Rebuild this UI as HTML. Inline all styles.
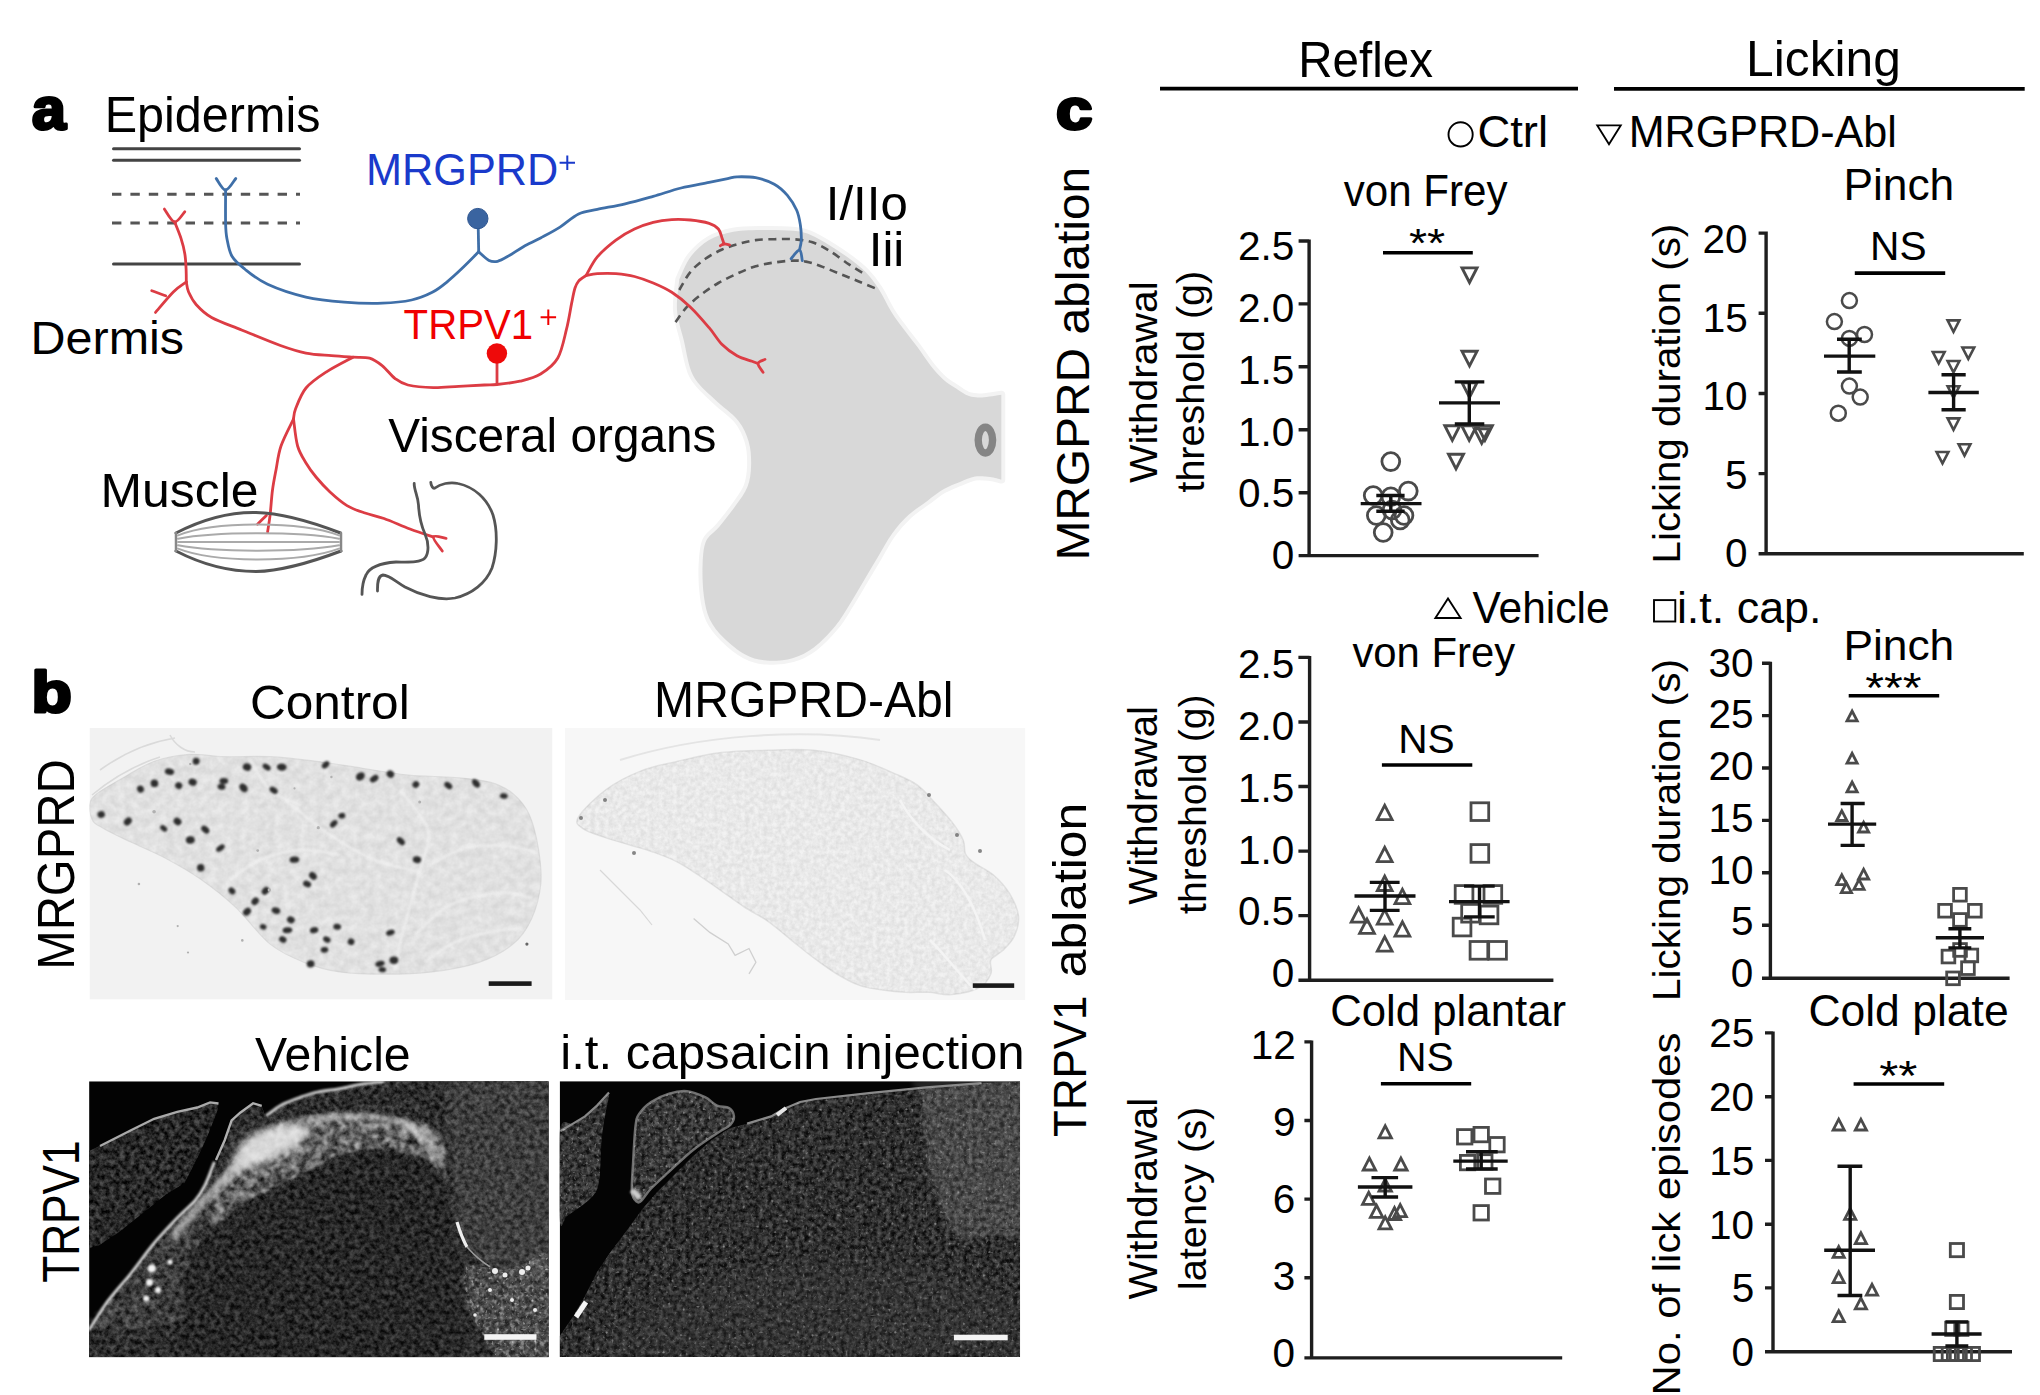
<!DOCTYPE html>
<html><head><meta charset="utf-8"><style>
html,body{margin:0;padding:0;background:#fff;}
body{width:2040px;height:1395px;overflow:hidden;}
svg{display:block;font-family:"Liberation Sans",sans-serif;}
</style></head><body>
<svg width="2040" height="1395" viewBox="0 0 2040 1395">
<rect width="2040" height="1395" fill="#fff"/>
<defs>
<filter id="texD" filterUnits="userSpaceOnUse" x="80" y="720" width="960" height="645" color-interpolation-filters="sRGB">
 <feTurbulence type="fractalNoise" baseFrequency="0.2" numOctaves="3" seed="7" result="t"/>
 <feGaussianBlur in="t" stdDeviation="0.55" result="tb"/>
 <feColorMatrix in="tb" type="matrix" values="1 0 0 0 0  1 0 0 0 0  1 0 0 0 0  0 0 0 0 1" result="g"/>
 <feComponentTransfer in="g" result="c"><feFuncR type="linear" slope="1.8" intercept="-0.4"/><feFuncG type="linear" slope="1.8" intercept="-0.4"/><feFuncB type="linear" slope="1.8" intercept="-0.4"/></feComponentTransfer>
 <feComposite in="c" in2="SourceAlpha" operator="in"/>
</filter>
<filter id="texD2" filterUnits="userSpaceOnUse" x="80" y="720" width="960" height="645" color-interpolation-filters="sRGB">
 <feTurbulence type="fractalNoise" baseFrequency="0.22" numOctaves="3" seed="17" result="t"/>
 <feGaussianBlur in="t" stdDeviation="0.55" result="tb"/>
 <feColorMatrix in="tb" type="matrix" values="1 0 0 0 0  1 0 0 0 0  1 0 0 0 0  0 0 0 0 1" result="g"/>
 <feComponentTransfer in="g" result="c"><feFuncR type="linear" slope="1.8" intercept="-0.4"/><feFuncG type="linear" slope="1.8" intercept="-0.4"/><feFuncB type="linear" slope="1.8" intercept="-0.4"/></feComponentTransfer>
 <feComposite in="c" in2="SourceAlpha" operator="in"/>
</filter>
<filter id="texL" filterUnits="userSpaceOnUse" x="80" y="720" width="960" height="645" color-interpolation-filters="sRGB">
 <feTurbulence type="fractalNoise" baseFrequency="0.12" numOctaves="3" seed="11" result="t"/>
 <feGaussianBlur in="t" stdDeviation="0.55" result="tb"/>
 <feColorMatrix in="tb" type="matrix" values="1 0 0 0 0  1 0 0 0 0  1 0 0 0 0  0 0 0 0 1" result="g"/>
 <feComponentTransfer in="g" result="c"><feFuncR type="linear" slope="1.6" intercept="-0.30000000000000004"/><feFuncG type="linear" slope="1.6" intercept="-0.30000000000000004"/><feFuncB type="linear" slope="1.6" intercept="-0.30000000000000004"/></feComponentTransfer>
 <feComposite in="c" in2="SourceAlpha" operator="in"/>
</filter>
<filter id="mot" filterUnits="userSpaceOnUse" x="80" y="720" width="960" height="645" color-interpolation-filters="sRGB">
 <feTurbulence type="fractalNoise" baseFrequency="0.13" numOctaves="2" seed="5" result="t"/>
 <feColorMatrix in="t" type="matrix" values="0 0 0 0 1  0 0 0 0 1  0 0 0 0 1  3.2 0 0 0 -1.25" result="w"/>
 <feComposite in="w" in2="SourceAlpha" operator="in"/>
</filter>
<filter id="mot2" filterUnits="userSpaceOnUse" x="80" y="720" width="960" height="645" color-interpolation-filters="sRGB">
 <feTurbulence type="fractalNoise" baseFrequency="0.2" numOctaves="2" seed="9" result="t"/>
 <feColorMatrix in="t" type="matrix" values="0 0 0 0 1  0 0 0 0 1  0 0 0 0 1  3.5 0 0 0 -1.75" result="w"/>
 <feComposite in="w" in2="SourceAlpha" operator="in"/>
</filter>
<filter id="spk" filterUnits="userSpaceOnUse" x="80" y="720" width="960" height="645" color-interpolation-filters="sRGB">
 <feTurbulence type="fractalNoise" baseFrequency="0.35" numOctaves="1" seed="21" result="t"/>
 <feColorMatrix in="t" type="matrix" values="0 0 0 0 1  0 0 0 0 1  0 0 0 0 1  5 0 0 0 -3.1" result="w"/>
 <feComposite in="w" in2="SourceAlpha" operator="in"/>
</filter>
<filter id="b06" filterUnits="userSpaceOnUse" x="80" y="720" width="960" height="645" color-interpolation-filters="sRGB"><feGaussianBlur stdDeviation="0.6"/></filter>
<filter id="b1" filterUnits="userSpaceOnUse" x="80" y="720" width="960" height="645" color-interpolation-filters="sRGB"><feGaussianBlur stdDeviation="1"/></filter>
<filter id="b2" filterUnits="userSpaceOnUse" x="80" y="720" width="960" height="645" color-interpolation-filters="sRGB"><feGaussianBlur stdDeviation="2.2"/></filter>
<filter id="b4" filterUnits="userSpaceOnUse" x="80" y="720" width="960" height="645" color-interpolation-filters="sRGB"><feGaussianBlur stdDeviation="4"/></filter>
<filter id="b8" filterUnits="userSpaceOnUse" x="80" y="720" width="960" height="645" color-interpolation-filters="sRGB"><feGaussianBlur stdDeviation="8"/></filter>
<filter id="b14" filterUnits="userSpaceOnUse" x="80" y="720" width="960" height="645" color-interpolation-filters="sRGB"><feGaussianBlur stdDeviation="14"/></filter>
<clipPath id="cpV"><rect x="89.1" y="1081.3" width="459.7" height="276"/></clipPath>
<clipPath id="cpC"><rect x="559.7" y="1081.2" width="460.4" height="275.8"/></clipPath>
<clipPath id="cpM1"><rect x="89.5" y="728" width="463" height="271.6"/></clipPath>
<clipPath id="cpM2"><rect x="565" y="727.7" width="460.4" height="272.3"/></clipPath>
</defs>
<g clip-path="url(#cpM1)">
<rect x="89.5" y="728" width="463" height="271.6" fill="#f2f2f2"/>
<path d="M92,798.4 C96.6,791.8 109.3,786 119.7,779.8 C130.1,773.6 142.8,765.5 154.4,761.3 C166,757.1 177.5,755.2 189.1,754.4 C200.7,753.6 210.3,756.3 223.8,756.7 C237.3,757.1 254.7,755.9 270.1,756.7 C285.5,757.5 301,759.4 316.4,761.3 C331.8,763.2 347.2,766 362.6,768.3 C378,770.6 393.5,773.7 408.9,775.2 C424.3,776.7 441.7,776.3 455.2,777.5 C468.7,778.7 480.3,779.5 489.9,782.2 C499.5,784.9 506.4,788.3 513,793.7 C519.5,799.1 525,805.2 529.2,814.5 C533.5,823.8 536.6,837.7 538.5,849.3 C540.4,860.9 541.9,872.4 540.8,884 C539.6,895.6 536.2,908.7 531.6,918.7 C527,928.7 521.9,936.8 513,944.1 C504.1,951.4 491.8,958 478.3,962.6 C464.8,967.2 447.5,970 432.1,971.9 C416.7,973.8 401.2,974.2 385.8,974.2 C370.4,974.2 353,973.8 339.5,971.9 C326,970 316.4,967.2 304.8,962.6 C293.2,958 281.7,953.4 270.1,944.1 C258.5,934.9 247,917.9 235.4,907.1 C223.8,896.3 212.3,887.4 200.7,879.3 C189.1,871.2 177.6,864.7 166,858.5 C154.4,852.3 141.7,847.3 131.3,842.3 C120.9,837.3 110,832.2 103.5,828.4 C97,824.5 93.9,824.2 92,819.2 C90.1,814.2 87.4,805 92,798.4Z" fill="#e9e9e9" stroke="#dedede" stroke-width="1.2"/>
<path d="M92,798.4 C96.6,791.8 109.3,786 119.7,779.8 C130.1,773.6 142.8,765.5 154.4,761.3 C166,757.1 177.5,755.2 189.1,754.4 C200.7,753.6 210.3,756.3 223.8,756.7 C237.3,757.1 254.7,755.9 270.1,756.7 C285.5,757.5 301,759.4 316.4,761.3 C331.8,763.2 347.2,766 362.6,768.3 C378,770.6 393.5,773.7 408.9,775.2 C424.3,776.7 441.7,776.3 455.2,777.5 C468.7,778.7 480.3,779.5 489.9,782.2 C499.5,784.9 506.4,788.3 513,793.7 C519.5,799.1 525,805.2 529.2,814.5 C533.5,823.8 536.6,837.7 538.5,849.3 C540.4,860.9 541.9,872.4 540.8,884 C539.6,895.6 536.2,908.7 531.6,918.7 C527,928.7 521.9,936.8 513,944.1 C504.1,951.4 491.8,958 478.3,962.6 C464.8,967.2 447.5,970 432.1,971.9 C416.7,973.8 401.2,974.2 385.8,974.2 C370.4,974.2 353,973.8 339.5,971.9 C326,970 316.4,967.2 304.8,962.6 C293.2,958 281.7,953.4 270.1,944.1 C258.5,934.9 247,917.9 235.4,907.1 C223.8,896.3 212.3,887.4 200.7,879.3 C189.1,871.2 177.6,864.7 166,858.5 C154.4,852.3 141.7,847.3 131.3,842.3 C120.9,837.3 110,832.2 103.5,828.4 C97,824.5 93.9,824.2 92,819.2 C90.1,814.2 87.4,805 92,798.4Z" fill="#000" opacity="0.07" filter="url(#texL)"/>
<path d="M430,865 C435.8,862.2 452.5,851.2 465,848 C477.5,844.8 493.2,845.3 505,846 C516.8,846.7 530.8,851 536,852" fill="none" stroke="#f2f2f2" stroke-width="2.6" opacity="0.7" filter="url(#b1)"/>
<path d="M415,935 C420.8,930 435.8,912 450,905 C464.2,898 486.3,894.2 500,893 C513.7,891.8 526.7,897.2 532,898" fill="none" stroke="#f2f2f2" stroke-width="2.6" opacity="0.7" filter="url(#b1)"/>
<path d="M425,962 C430,958.7 444.2,947 455,942 C465.8,937 478.8,934.3 490,932 C501.2,929.7 516.7,928.7 522,928" fill="none" stroke="#f2f2f2" stroke-width="2.6" opacity="0.7" filter="url(#b1)"/>
<path d="M400,790 C404.7,796.7 424.7,816.7 428,830 C431.3,843.3 424.3,852.5 420,870 C415.7,887.5 406.2,918.3 402,935 C397.8,951.7 396.2,964.2 395,970" fill="none" stroke="#f2f2f2" stroke-width="2.6" opacity="0.7" filter="url(#b1)"/>
<path d="M285,800 C292.5,805.8 315,825 330,835 C345,845 360,853.8 375,860 C390,866.2 412.5,870 420,872" fill="none" stroke="#f2f2f2" stroke-width="2.6" opacity="0.7" filter="url(#b1)"/>
<path d="M250,760 C253.3,765 261.7,782.5 270,790 C278.3,797.5 295,802.5 300,805" fill="none" stroke="#f2f2f2" stroke-width="2.6" opacity="0.7" filter="url(#b1)"/>
<path d="M230,880 C235,876.7 248.3,865 260,860 C271.7,855 286.7,850.8 300,850 C313.3,849.2 333.3,854.2 340,855" fill="none" stroke="#f2f2f2" stroke-width="2.6" opacity="0.7" filter="url(#b1)"/>
<path d="M92,795 C110,780 135,765 160,757 M100,770 C125,752 150,742 175,738 M170,735 C175,745 185,752 195,752" fill="none" stroke="#dadada" stroke-width="1.6"/>
<g fill="#2e2e2e" filter="url(#b1)">
<ellipse cx="101.2" cy="814.5" rx="3.8" ry="3.3" transform="rotate(-13 101.2 814.5)"/>
<ellipse cx="127.8" cy="821.5" rx="4.4" ry="3.4" transform="rotate(-43 127.8 821.5)"/>
<ellipse cx="140.5" cy="789.1" rx="3.4" ry="3.6" transform="rotate(-24 140.5 789.1)"/>
<ellipse cx="154.4" cy="783.3" rx="3.8" ry="3.8" transform="rotate(-2 154.4 783.3)"/>
<ellipse cx="169.5" cy="771.7" rx="4.7" ry="3.2" transform="rotate(13 169.5 771.7)"/>
<ellipse cx="178.7" cy="785.6" rx="3.6" ry="3.4" transform="rotate(36 178.7 785.6)"/>
<ellipse cx="192.6" cy="782.2" rx="4.2" ry="3.5" transform="rotate(17 192.6 782.2)"/>
<ellipse cx="196.1" cy="761.3" rx="3.5" ry="3.5" transform="rotate(9 196.1 761.3)"/>
<ellipse cx="163.7" cy="828.4" rx="3.9" ry="2.6" transform="rotate(36 163.7 828.4)"/>
<ellipse cx="177.5" cy="821.5" rx="4.2" ry="3.5" transform="rotate(37 177.5 821.5)"/>
<ellipse cx="190.3" cy="840" rx="4.5" ry="3.7" transform="rotate(-10 190.3 840)"/>
<ellipse cx="205.3" cy="829.6" rx="4.7" ry="3.1" transform="rotate(43 205.3 829.6)"/>
<ellipse cx="220.4" cy="848.1" rx="4.8" ry="2.7" transform="rotate(-36 220.4 848.1)"/>
<ellipse cx="200.7" cy="867.8" rx="3.7" ry="3.8" transform="rotate(-6 200.7 867.8)"/>
<ellipse cx="223.8" cy="781" rx="4.4" ry="3" transform="rotate(0 223.8 781)"/>
<ellipse cx="221.5" cy="786.8" rx="4" ry="3" transform="rotate(8 221.5 786.8)"/>
<ellipse cx="247" cy="767.1" rx="4.3" ry="3.7" transform="rotate(18 247 767.1)"/>
<ellipse cx="243.5" cy="787.9" rx="4.9" ry="3.6" transform="rotate(49 243.5 787.9)"/>
<ellipse cx="266.6" cy="767.1" rx="4.5" ry="2.8" transform="rotate(36 266.6 767.1)"/>
<ellipse cx="281.7" cy="767.1" rx="4.9" ry="3.7" transform="rotate(6 281.7 767.1)"/>
<ellipse cx="273.6" cy="790.3" rx="4.5" ry="2.9" transform="rotate(33 273.6 790.3)"/>
<ellipse cx="325.6" cy="764.8" rx="4.3" ry="2.9" transform="rotate(-43 325.6 764.8)"/>
<ellipse cx="360.3" cy="776.4" rx="4.8" ry="3.8" transform="rotate(-41 360.3 776.4)"/>
<ellipse cx="374.2" cy="778.7" rx="4.7" ry="3.1" transform="rotate(-34 374.2 778.7)"/>
<ellipse cx="390.4" cy="774.1" rx="3.9" ry="3.5" transform="rotate(37 390.4 774.1)"/>
<ellipse cx="415.9" cy="784.5" rx="3.5" ry="3.3" transform="rotate(-45 415.9 784.5)"/>
<ellipse cx="448.3" cy="785.6" rx="4.5" ry="3" transform="rotate(38 448.3 785.6)"/>
<ellipse cx="476" cy="783.3" rx="5" ry="3.2" transform="rotate(49 476 783.3)"/>
<ellipse cx="503.8" cy="796" rx="3.9" ry="2.7" transform="rotate(9 503.8 796)"/>
<ellipse cx="341.8" cy="815.7" rx="3.5" ry="2.8" transform="rotate(-9 341.8 815.7)"/>
<ellipse cx="333.7" cy="823.8" rx="4.4" ry="2.8" transform="rotate(-45 333.7 823.8)"/>
<ellipse cx="400.8" cy="841.2" rx="4.8" ry="3" transform="rotate(45 400.8 841.2)"/>
<ellipse cx="294.4" cy="859.7" rx="4.8" ry="3.1" transform="rotate(-3 294.4 859.7)"/>
<ellipse cx="417" cy="859.7" rx="4.2" ry="3.4" transform="rotate(9 417 859.7)"/>
<ellipse cx="312.9" cy="875.9" rx="4.3" ry="3.3" transform="rotate(44 312.9 875.9)"/>
<ellipse cx="307.1" cy="884" rx="4.2" ry="3.1" transform="rotate(22 307.1 884)"/>
<ellipse cx="231.9" cy="890.9" rx="3.8" ry="3" transform="rotate(47 231.9 890.9)"/>
<ellipse cx="265.5" cy="890.9" rx="4.2" ry="3.3" transform="rotate(-48 265.5 890.9)"/>
<ellipse cx="255.1" cy="901.3" rx="4.1" ry="3.3" transform="rotate(-47 255.1 901.3)"/>
<ellipse cx="247" cy="911.7" rx="4.4" ry="3.4" transform="rotate(-43 247 911.7)"/>
<ellipse cx="275.9" cy="910.6" rx="4.4" ry="3.2" transform="rotate(17 275.9 910.6)"/>
<ellipse cx="290.9" cy="919.8" rx="4" ry="3.4" transform="rotate(23 290.9 919.8)"/>
<ellipse cx="263.2" cy="926.8" rx="3.4" ry="2.7" transform="rotate(17 263.2 926.8)"/>
<ellipse cx="287.5" cy="930.2" rx="4.9" ry="2.9" transform="rotate(-4 287.5 930.2)"/>
<ellipse cx="314.1" cy="930.2" rx="4.3" ry="3" transform="rotate(-13 314.1 930.2)"/>
<ellipse cx="337.2" cy="926.8" rx="3.9" ry="3" transform="rotate(9 337.2 926.8)"/>
<ellipse cx="282.8" cy="939.5" rx="3.9" ry="3.1" transform="rotate(27 282.8 939.5)"/>
<ellipse cx="351.1" cy="941.8" rx="3.4" ry="3.3" transform="rotate(23 351.1 941.8)"/>
<ellipse cx="326.8" cy="939.5" rx="3.9" ry="2.9" transform="rotate(30 326.8 939.5)"/>
<ellipse cx="324.5" cy="949.9" rx="3.8" ry="2.8" transform="rotate(-6 324.5 949.9)"/>
<ellipse cx="390.4" cy="932.6" rx="4.5" ry="2.7" transform="rotate(-17 390.4 932.6)"/>
<ellipse cx="310.6" cy="963.8" rx="3.9" ry="3.6" transform="rotate(-6 310.6 963.8)"/>
<ellipse cx="380" cy="963.8" rx="4.8" ry="2.8" transform="rotate(-16 380 963.8)"/>
<ellipse cx="393.9" cy="960.3" rx="4.4" ry="3.7" transform="rotate(-4 393.9 960.3)"/>
<ellipse cx="382.3" cy="969.6" rx="3.8" ry="2.7" transform="rotate(2 382.3 969.6)"/>
</g>
<g fill="#b0b0b0" filter="url(#b06)">
<circle cx="188" cy="952.5" r="1.1"/>
<circle cx="331.4" cy="777" r="1.2"/>
<circle cx="419.7" cy="801.9" r="1.5"/>
<circle cx="257.7" cy="850.6" r="1.4"/>
<circle cx="177.7" cy="926.1" r="1.1"/>
<circle cx="190.3" cy="764" r="1.2"/>
<circle cx="242.3" cy="940.4" r="1.3"/>
<circle cx="154.1" cy="811.7" r="1.8"/>
<circle cx="138.9" cy="884" r="1.3"/>
<circle cx="318.3" cy="827.7" r="1.6"/>
<circle cx="269.3" cy="889.9" r="1.7"/>
<circle cx="294.5" cy="788.4" r="1.1"/>
</g>
<circle cx="526.9" cy="944.1" r="1.6" fill="#666"/>
<rect x="488.7" y="981.3" width="42.9" height="4.6" fill="#1a1a1a" filter="url(#b06)"/>
</g>
<g clip-path="url(#cpM2)">
<rect x="565" y="727.7" width="460.4" height="272.3" fill="#f7f7f7"/>
<path d="M578.4,817.2 C582.2,810.7 595.7,797.2 606.1,789.5 C616.5,781.8 629.1,775.7 640.6,771.1 C652.1,766.5 661.8,765 675.2,761.9 C688.7,758.8 705.9,754.5 721.3,752.6 C736.7,750.7 752,750.7 767.4,750.3 C782.8,749.9 798.1,748.8 813.5,750.3 C828.9,751.8 846.1,755.8 859.5,759.6 C872.9,763.5 884.5,769.2 894.1,773.4 C903.7,777.6 910.6,780.3 917.1,784.9 C923.6,789.5 927.5,794.9 933.3,801 C939.1,807.1 946.7,815.3 951.7,821.8 C956.7,828.3 960.9,834.8 963.2,840.2 C965.5,845.6 963.6,850.2 965.5,854 C967.4,857.8 970.2,859.7 974.8,863.2 C979.4,866.7 987.5,869.8 993.2,874.8 C999,879.8 1005.1,886.3 1009.3,893.2 C1013.5,900.1 1017.7,908.9 1018.5,916.2 C1019.3,923.5 1016.6,931.2 1013.9,937 C1011.2,942.8 1006.2,947 1002.4,950.8 C998.6,954.6 992.8,956.2 990.9,960 C989,963.8 992.8,969.2 990.9,973.8 C989,978.4 985.9,984.2 979.4,987.7 C972.9,991.2 960.2,993.8 951.7,994.6 C943.2,995.4 936.4,992.7 928.7,992.3 C921,991.9 913.3,992.7 905.6,992.3 C897.9,991.9 890.3,991.1 882.6,990 C874.9,988.9 867.2,988.1 859.5,985.4 C851.8,982.7 844.2,978.4 836.5,973.8 C828.8,969.2 821.2,963.5 813.5,957.7 C805.8,952 798.1,945.4 790.4,939.3 C782.7,933.2 775.1,926.3 767.4,920.9 C759.7,915.5 752,912 744.3,907 C736.6,902 729,896.3 721.3,890.9 C713.6,885.5 705.9,879.8 698.2,874.8 C690.5,869.8 682.9,864.8 675.2,860.9 C667.5,857 659.9,854.4 652.2,851.7 C644.5,849 636.8,847.1 629.1,844.8 C621.4,842.5 613.8,840.6 606.1,837.9 C598.4,835.2 587.6,832.2 583,828.7 C578.4,825.2 574.5,823.7 578.4,817.2Z" fill="#f2f2f2" stroke="#e2e2e2" stroke-width="1.5"/>
<path d="M578.4,817.2 C582.2,810.7 595.7,797.2 606.1,789.5 C616.5,781.8 629.1,775.7 640.6,771.1 C652.1,766.5 661.8,765 675.2,761.9 C688.7,758.8 705.9,754.5 721.3,752.6 C736.7,750.7 752,750.7 767.4,750.3 C782.8,749.9 798.1,748.8 813.5,750.3 C828.9,751.8 846.1,755.8 859.5,759.6 C872.9,763.5 884.5,769.2 894.1,773.4 C903.7,777.6 910.6,780.3 917.1,784.9 C923.6,789.5 927.5,794.9 933.3,801 C939.1,807.1 946.7,815.3 951.7,821.8 C956.7,828.3 960.9,834.8 963.2,840.2 C965.5,845.6 963.6,850.2 965.5,854 C967.4,857.8 970.2,859.7 974.8,863.2 C979.4,866.7 987.5,869.8 993.2,874.8 C999,879.8 1005.1,886.3 1009.3,893.2 C1013.5,900.1 1017.7,908.9 1018.5,916.2 C1019.3,923.5 1016.6,931.2 1013.9,937 C1011.2,942.8 1006.2,947 1002.4,950.8 C998.6,954.6 992.8,956.2 990.9,960 C989,963.8 992.8,969.2 990.9,973.8 C989,978.4 985.9,984.2 979.4,987.7 C972.9,991.2 960.2,993.8 951.7,994.6 C943.2,995.4 936.4,992.7 928.7,992.3 C921,991.9 913.3,992.7 905.6,992.3 C897.9,991.9 890.3,991.1 882.6,990 C874.9,988.9 867.2,988.1 859.5,985.4 C851.8,982.7 844.2,978.4 836.5,973.8 C828.8,969.2 821.2,963.5 813.5,957.7 C805.8,952 798.1,945.4 790.4,939.3 C782.7,933.2 775.1,926.3 767.4,920.9 C759.7,915.5 752,912 744.3,907 C736.6,902 729,896.3 721.3,890.9 C713.6,885.5 705.9,879.8 698.2,874.8 C690.5,869.8 682.9,864.8 675.2,860.9 C667.5,857 659.9,854.4 652.2,851.7 C644.5,849 636.8,847.1 629.1,844.8 C621.4,842.5 613.8,840.6 606.1,837.9 C598.4,835.2 587.6,832.2 583,828.7 C578.4,825.2 574.5,823.7 578.4,817.2Z" fill="#000" opacity="0.07" filter="url(#texD2)"/>
<path d="M620,760 C700,735 800,728 880,740" fill="none" stroke="#e4e4e4" stroke-width="2"/>
<path d="M693.6,918.5 L709.8,932.4 L728.2,943.9 L735.1,955.4 L749,948.5 L755.9,962.3 L749,973.8" fill="none" stroke="#cfcfcf" stroke-width="1.3"/>
<path d="M600,870 L620,890 L640,910 L652,925" fill="none" stroke="#d8d8d8" stroke-width="1.2"/>
<path d="M945,870 C960,880 975,905 985,940 M930,940 C945,955 960,975 975,990 M900,800 C910,820 930,840 950,850" fill="none" stroke="#f4f4f4" stroke-width="2.5"/>
<circle cx="957" cy="835" r="2" fill="#555" opacity="0.7"/>
<circle cx="929" cy="795" r="2" fill="#555" opacity="0.7"/>
<circle cx="581" cy="818" r="2" fill="#555" opacity="0.7"/>
<circle cx="634" cy="853" r="2" fill="#555" opacity="0.7"/>
<circle cx="980" cy="851" r="2" fill="#555" opacity="0.7"/>
<circle cx="605" cy="800" r="2" fill="#555" opacity="0.7"/>
<rect x="972.8" y="983.3" width="41.4" height="4.6" fill="#1a1a1a" filter="url(#b06)"/>
</g>
<g clip-path="url(#cpV)">
<rect x="89.1" y="1081.3" width="459.7" height="276" fill="#030303"/>
<path d="M89.1,1151 L108,1141.8 L131,1130.3 L154.1,1118.8 L177.2,1111.9 L184.3,1111 L197.2,1107.5 L210.1,1102.4 L218.7,1103.2 L218,1109 L212.7,1123 L207.5,1135.9 L199.8,1153.1 L191.2,1170.3 L184.3,1183.2 L165.6,1194.8 L142.6,1213.2 L119.6,1231.7 L98.8,1245.5 L89.1,1248Z" fill="rgb(3,3,3)"/>
<path d="M89.1,1151 L108,1141.8 L131,1130.3 L154.1,1118.8 L177.2,1111.9 L184.3,1111 L197.2,1107.5 L210.1,1102.4 L218.7,1103.2 L218,1109 L212.7,1123 L207.5,1135.9 L199.8,1153.1 L191.2,1170.3 L184.3,1183.2 L165.6,1194.8 L142.6,1213.2 L119.6,1231.7 L98.8,1245.5 L89.1,1248Z" fill="#000" opacity="0.3" filter="url(#texD)"/>
<path d="M89.1,1357.3 L89.1,1330 L108,1300.8 L131,1273.2 L154.1,1243.2 L177.2,1217.9 L195.5,1200 L205,1185 L214.4,1161.7 L224.7,1140.2 L231.6,1120.4 L240.2,1112.7 L253.1,1103.2 L261.7,1105.8 L266,1118 L270.3,1112.7 L283.2,1104.1 L300.4,1097.2 L317.6,1092 L338.5,1088.8 L361.5,1084.2 L384.5,1081.5 L548.6,1080.8 L548.6,1357.3Z" fill="rgb(14,14,14)"/>
<path d="M89.1,1357.3 L89.1,1330 L108,1300.8 L131,1273.2 L154.1,1243.2 L177.2,1217.9 L195.5,1200 L205,1185 L214.4,1161.7 L224.7,1140.2 L231.6,1120.4 L240.2,1112.7 L253.1,1103.2 L261.7,1105.8 L266,1118 L270.3,1112.7 L283.2,1104.1 L300.4,1097.2 L317.6,1092 L338.5,1088.8 L361.5,1084.2 L384.5,1081.5 L548.6,1080.8 L548.6,1357.3Z" fill="#000" opacity="0.28" filter="url(#texD)"/>
<path d="M436,1080.8 C418.9,1080.7 444.3,1073.5 446,1080 C447.7,1086.5 445.3,1106.7 446,1120 C446.7,1133.3 448.3,1143.9 450,1160 C451.7,1176.1 453.3,1202.4 456,1216.5 C458.7,1230.6 460.3,1236.3 466,1244.7 C471.7,1253.1 480.9,1263.5 490,1266.8 C499.1,1270.1 510.7,1266.4 520.5,1264.7 C530.3,1263 543.9,1287.4 548.6,1256.7 C553.3,1226 567.4,1110.1 548.6,1080.8 C529.8,1051.5 453.1,1080.9 436,1080.8Z" fill="#fff" opacity="0.085" filter="url(#b4)"/>
<path d="M177.2,1321.5 C174.5,1309.1 181,1294.3 184.1,1282.4 C187.2,1270.5 190.6,1259.7 195.6,1250.1 C200.6,1240.5 206.3,1232.5 214,1224.8 C221.7,1217.1 232.5,1209.8 241.7,1204 C250.9,1198.2 260.9,1194.4 269.3,1190.2 C277.8,1186 284.7,1182.5 292.4,1178.7 C300.1,1174.9 307.7,1171.1 315.4,1167.2 C323.1,1163.3 328.9,1158.7 338.5,1155.6 C348.1,1152.5 361.5,1149.1 373,1148.7 C384.5,1148.3 398,1151 407.6,1153.3 C417.2,1155.6 424.5,1158.4 430.6,1162.6 C436.7,1166.8 441.2,1167.5 444.4,1178.7 C447.6,1189.9 447.4,1209.8 450,1230 C452.6,1250.2 461.7,1278.8 460,1300 C458.3,1321.2 483.3,1347.5 440,1357 C396.7,1366.5 243.8,1362.9 200,1357 C156.2,1351.1 179.8,1333.9 177.2,1321.5Z" fill="#000" opacity="0.12" filter="url(#b4)"/>
<g filter="url(#b1)">
<path d="M89.6,1326.2 C80,1320.8 108.8,1302 119.6,1289.3 C130.3,1276.6 142.6,1262.8 154.1,1250.1 C165.6,1237.4 178.7,1224 188.7,1213.2 C198.7,1202.5 207.5,1193.3 214,1185.6 C220.5,1177.9 222.5,1174.1 227.9,1167.2 C233.3,1160.3 239.4,1150.6 246.3,1144.1 C253.2,1137.6 259.7,1132.6 269.3,1128 C278.9,1123.4 292.4,1119.2 303.9,1116.5 C315.4,1113.8 327,1112.3 338.5,1111.9 C350,1111.5 361.5,1113.1 373,1114.2 C384.5,1115.3 397.2,1116.5 407.6,1118.8 C418,1121.1 429.1,1123.8 435.2,1128 C441.3,1132.2 442.6,1137.9 444.4,1144.1 C446.2,1150.3 446,1159.2 446,1165 C446,1170.8 447,1179.1 444.4,1178.7 C441.8,1178.3 436.7,1166.8 430.6,1162.6 C424.5,1158.4 417.2,1155.6 407.6,1153.3 C398,1151 384.5,1148.3 373,1148.7 C361.5,1149.1 348.1,1152.5 338.5,1155.6 C328.9,1158.7 323.1,1163.3 315.4,1167.2 C307.7,1171.1 300.1,1174.9 292.4,1178.7 C284.7,1182.5 277.8,1186 269.3,1190.2 C260.9,1194.4 250.9,1198.2 241.7,1204 C232.5,1209.8 221.7,1217.1 214,1224.8 C206.3,1232.5 200.6,1240.5 195.6,1250.1 C190.6,1259.7 187.2,1270.5 184.1,1282.4 C181,1294.3 192.9,1314.2 177.2,1321.5 C161.4,1328.8 99.2,1331.6 89.6,1326.2Z" fill="#fff" opacity="0.2" filter="url(#mot)"/>
<path d="M214,1185.6 C216.3,1176 222.5,1174.1 227.9,1167.2 C233.3,1160.3 239.4,1150.6 246.3,1144.1 C253.2,1137.6 259.7,1132.6 269.3,1128 C278.9,1123.4 292.4,1119.2 303.9,1116.5 C315.4,1113.8 327,1112.3 338.5,1111.9 C350,1111.5 361.5,1113.1 373,1114.2 C384.5,1115.3 397.2,1116.5 407.6,1118.8 C418,1121.1 429.1,1123.8 435.2,1128 C441.3,1132.2 442.6,1137.9 444.4,1144.1 C446.2,1150.3 446,1159.2 446,1165 C446,1170.8 447,1179.1 444.4,1178.7 C441.8,1178.3 436.7,1166.8 430.6,1162.6 C424.5,1158.4 417.2,1155.6 407.6,1153.3 C398,1151 384.5,1148.3 373,1148.7 C361.5,1149.1 348.1,1152.5 338.5,1155.6 C328.9,1158.7 323.1,1163.3 315.4,1167.2 C307.7,1171.1 300.1,1174.9 292.4,1178.7 C284.7,1182.5 277.8,1186 269.3,1190.2 C260.9,1194.4 250.9,1198.2 241.7,1204 C232.5,1209.8 218.6,1227.9 214,1224.8 C209.4,1221.7 211.7,1195.2 214,1185.6Z" fill="#fff" opacity="0.35" filter="url(#mot)"/>
<path d="M214,1185.6 C216.3,1176 222.5,1174.1 227.9,1167.2 C233.3,1160.3 239.4,1150.6 246.3,1144.1 C253.2,1137.6 259.7,1132.6 269.3,1128 C278.9,1123.4 292.4,1119.2 303.9,1116.5 C315.4,1113.8 327,1112.3 338.5,1111.9 C350,1111.5 361.5,1113.1 373,1114.2 C384.5,1115.3 397.2,1116.5 407.6,1118.8 C418,1121.1 429.1,1123.8 435.2,1128 C441.3,1132.2 442.6,1137.9 444.4,1144.1 C446.2,1150.3 446,1159.2 446,1165 C446,1170.8 447,1179.1 444.4,1178.7 C441.8,1178.3 436.7,1166.8 430.6,1162.6 C424.5,1158.4 417.2,1155.6 407.6,1153.3 C398,1151 384.5,1148.3 373,1148.7 C361.5,1149.1 348.1,1152.5 338.5,1155.6 C328.9,1158.7 323.1,1163.3 315.4,1167.2 C307.7,1171.1 300.1,1174.9 292.4,1178.7 C284.7,1182.5 277.8,1186 269.3,1190.2 C260.9,1194.4 250.9,1198.2 241.7,1204 C232.5,1209.8 218.6,1227.9 214,1224.8 C209.4,1221.7 211.7,1195.2 214,1185.6Z" fill="#fff" opacity="0.45" filter="url(#mot2)"/>
<path d="M236,1152 C238.7,1146 243.5,1140.3 250,1136 C256.5,1131.7 266.2,1128.2 275,1126 C283.8,1123.8 297.5,1121.7 303,1123 C308.5,1124.3 309.8,1129.5 308,1134 C306.2,1138.5 298.3,1145.7 292,1150 C285.7,1154.3 277,1157 270,1160 C263,1163 256,1166 250,1168 C244,1170 236.3,1174.7 234,1172 C231.7,1169.3 233.3,1158 236,1152Z" fill="#f0f0f0" opacity="0.85" filter="url(#b4)"/>
<path d="M305,1122 C330,1116 360,1114 390,1120 C410,1125 425,1130 437,1140" fill="none" stroke="#ddd" stroke-width="7" opacity="0.5" filter="url(#b2)"/>
<path d="M405,1125 C420,1132 432,1145 436,1160" fill="none" stroke="#fff" stroke-width="8" opacity="0.5" filter="url(#b2)"/>
<path d="M238,1165 C228,1175 218,1186 206,1198 C195,1210 184,1222 172,1238" fill="none" stroke="#e4e4e4" stroke-width="9" opacity="0.6" filter="url(#b2)"/>
<circle cx="151.8" cy="1268.5" r="4" fill="#f2f2f2"/>
<circle cx="149.5" cy="1282.4" r="3.5" fill="#f2f2f2"/>
<circle cx="146.1" cy="1298.5" r="3" fill="#f2f2f2"/>
<circle cx="158" cy="1290" r="3" fill="#f2f2f2"/>
<circle cx="170" cy="1262" r="2.5" fill="#f2f2f2"/>
</g>
<path d="M89,1330 C92.2,1325.1 101,1310.3 108,1300.8 C115,1291.3 123.3,1282.8 131,1273.2 C138.7,1263.6 146.4,1252.4 154.1,1243.2 C161.8,1234 170.3,1225.1 177.2,1217.9 C184.1,1210.7 190.9,1205.5 195.5,1200 C200.1,1194.5 201.8,1191.4 205,1185 C208.2,1178.6 212.8,1165.6 214.4,1161.7" fill="none" stroke="#e8e8e8" stroke-width="2.6" filter="url(#b1)"/>
<path d="M266,1116 C266.7,1115.5 267.4,1114.7 270.3,1112.7 C273.2,1110.7 278.2,1106.7 283.2,1104.1 C288.2,1101.5 294.7,1099.2 300.4,1097.2 C306.1,1095.2 311.2,1093.4 317.6,1092 C324,1090.6 331.2,1090.1 338.5,1088.8 C345.8,1087.5 353.8,1085.4 361.5,1084.2 C369.2,1083 380.7,1082 384.5,1081.5" fill="none" stroke="#d8d8d8" stroke-width="2.8" filter="url(#b1)"/>
<path d="M100,1146 L131,1130.3 L154.1,1118.8 L177.2,1111.9 L197.2,1107.5 L210.1,1102.4 L218.5,1103.5" fill="none" stroke="#aaa" stroke-width="2.4" filter="url(#b06)"/>
<path d="M216,1160 L224.7,1140.2 L231.6,1120.4 L240.2,1112.7 L253.1,1103.2 L261.7,1105.8" fill="none" stroke="#b0b0b0" stroke-width="2.4" filter="url(#b06)"/>
<path d="M457,1222 C460,1232 463,1240 467,1247" fill="none" stroke="#eee" stroke-width="3.2" filter="url(#b06)"/>
<path d="M467,1247 C475,1256 482,1262 490,1266.8" fill="none" stroke="#999" stroke-width="1.6"/>
<path d="M466,1267 C470,1261.7 481,1268.2 490,1268 C499,1267.8 510.2,1267.7 520,1266 C529.8,1264.3 543.8,1242.8 548.6,1258 C553.4,1273.2 556.7,1340.8 548.6,1357.3 C540.5,1373.8 511.4,1361.8 500,1357.3 C488.6,1352.8 485.7,1339.5 480,1330 C474.3,1320.5 468.3,1310.5 466,1300 C463.7,1289.5 462,1272.3 466,1267Z" fill="#fff" opacity="0.10" filter="url(#b2)"/>
<path d="M466,1267 C470,1261.7 481,1268.2 490,1268 C499,1267.8 510.2,1267.7 520,1266 C529.8,1264.3 543.8,1242.8 548.6,1258 C553.4,1273.2 556.7,1340.8 548.6,1357.3 C540.5,1373.8 511.4,1361.8 500,1357.3 C488.6,1352.8 485.7,1339.5 480,1330 C474.3,1320.5 468.3,1310.5 466,1300 C463.7,1289.5 462,1272.3 466,1267Z" fill="#fff" opacity="0.55" filter="url(#spk)"/>
<path d="M466,1267 C470,1261.7 481,1268.2 490,1268 C499,1267.8 510.2,1267.7 520,1266 C529.8,1264.3 543.8,1242.8 548.6,1258 C553.4,1273.2 556.7,1340.8 548.6,1357.3 C540.5,1373.8 511.4,1361.8 500,1357.3 C488.6,1352.8 485.7,1339.5 480,1330 C474.3,1320.5 468.3,1310.5 466,1300 C463.7,1289.5 462,1272.3 466,1267Z" fill="#fff" opacity="0.35" filter="url(#mot2)"/>
<circle cx="495" cy="1271" r="3" fill="#eee" filter="url(#b06)"/>
<circle cx="505" cy="1275" r="2.5" fill="#eee" filter="url(#b06)"/>
<circle cx="522" cy="1272" r="3" fill="#eee" filter="url(#b06)"/>
<circle cx="528" cy="1268" r="2.5" fill="#eee" filter="url(#b06)"/>
<circle cx="490" cy="1290" r="2" fill="#eee" filter="url(#b06)"/>
<circle cx="512" cy="1300" r="2" fill="#eee" filter="url(#b06)"/>
<circle cx="475" cy="1315" r="1.8" fill="#eee" filter="url(#b06)"/>
<circle cx="535" cy="1310" r="2" fill="#eee" filter="url(#b06)"/>
<rect x="484.3" y="1334.2" width="52.2" height="5.6" fill="#f4f4f4" filter="url(#b06)"/>
</g>
<g clip-path="url(#cpC)">
<rect x="559.7" y="1081.2" width="460.4" height="275.8" fill="#040404"/>
<path d="M559.7,1131 C561.9,1114.9 568.8,1126 573,1123.6 C577.2,1121.2 581,1119.4 585,1116.4 C589,1113.4 593,1109.6 597,1105.6 C601,1101.6 607.6,1091 609,1092.4 C610.4,1093.8 606.6,1106.4 605.4,1114 C604.2,1121.6 602.6,1130 601.8,1138 C601,1146 601.2,1154 600.6,1162 C600,1170 599.8,1180 598.2,1186 C596.6,1192 594.2,1194.4 591,1198 C587.8,1201.6 583,1204.7 579,1207.7 C575,1210.7 570.2,1214 567,1216 C563.8,1218 560.9,1234.2 559.7,1220 C558.5,1205.8 557.5,1147.1 559.7,1131Z" fill="rgb(20,20,20)"/>
<path d="M559.7,1131 C561.9,1114.9 568.8,1126 573,1123.6 C577.2,1121.2 581,1119.4 585,1116.4 C589,1113.4 593,1109.6 597,1105.6 C601,1101.6 607.6,1091 609,1092.4 C610.4,1093.8 606.6,1106.4 605.4,1114 C604.2,1121.6 602.6,1130 601.8,1138 C601,1146 601.2,1154 600.6,1162 C600,1170 599.8,1180 598.2,1186 C596.6,1192 594.2,1194.4 591,1198 C587.8,1201.6 583,1204.7 579,1207.7 C575,1210.7 570.2,1214 567,1216 C563.8,1218 560.9,1234.2 559.7,1220 C558.5,1205.8 557.5,1147.1 559.7,1131Z" fill="#000" opacity="0.3" filter="url(#texD2)"/>
<path d="M631.9,1192.1 C631.3,1185.5 632.5,1173 633.1,1162 C633.7,1151 634.5,1134 635.5,1126 C636.5,1118 636.5,1118 639.1,1114 C641.7,1110 646.1,1105.4 651.1,1102 C656.1,1098.6 663.1,1095.4 669.1,1093.6 C675.1,1091.8 681.1,1090.6 687.1,1091.2 C693.1,1091.8 700.1,1094.8 705.1,1097.2 C710.1,1099.6 713.1,1103.8 717.1,1105.6 C721.1,1107.4 726.3,1106.2 729.1,1108 C731.9,1109.8 733.8,1113.6 734,1116.4 C734.2,1119.2 733.1,1122 730.3,1124.8 C727.5,1127.6 723.3,1129 717.1,1133.2 C710.9,1137.4 701.1,1143.6 693.1,1150 C685.1,1156.4 676.1,1165.3 669.1,1171.7 C662.1,1178.1 655.7,1183.7 651.1,1188.5 C646.5,1193.3 643.9,1198.3 641.5,1200.5 C639.1,1202.7 638.3,1203.1 636.7,1201.7 C635.1,1200.3 632.5,1198.7 631.9,1192.1Z" fill="rgb(22,22,22)"/>
<path d="M631.9,1192.1 C631.3,1185.5 632.5,1173 633.1,1162 C633.7,1151 634.5,1134 635.5,1126 C636.5,1118 636.5,1118 639.1,1114 C641.7,1110 646.1,1105.4 651.1,1102 C656.1,1098.6 663.1,1095.4 669.1,1093.6 C675.1,1091.8 681.1,1090.6 687.1,1091.2 C693.1,1091.8 700.1,1094.8 705.1,1097.2 C710.1,1099.6 713.1,1103.8 717.1,1105.6 C721.1,1107.4 726.3,1106.2 729.1,1108 C731.9,1109.8 733.8,1113.6 734,1116.4 C734.2,1119.2 733.1,1122 730.3,1124.8 C727.5,1127.6 723.3,1129 717.1,1133.2 C710.9,1137.4 701.1,1143.6 693.1,1150 C685.1,1156.4 676.1,1165.3 669.1,1171.7 C662.1,1178.1 655.7,1183.7 651.1,1188.5 C646.5,1193.3 643.9,1198.3 641.5,1200.5 C639.1,1202.7 638.3,1203.1 636.7,1201.7 C635.1,1200.3 632.5,1198.7 631.9,1192.1Z" fill="#000" opacity="0.3" filter="url(#texD2)"/>
<path d="M559.7,1357 L559.7,1336 L573,1316.5 L585,1296 L597,1272 L609,1254 L627.1,1230 L641.5,1210 L657.1,1192.1 L675.1,1174.1 L693.1,1156.1 L711.1,1140.4 L729.1,1128.4 L747.1,1123.6 L771.2,1116.4 L783.2,1109.2 L800,1102 L815.9,1099 L871.1,1092.8 L926.3,1087.3 L981.5,1083.1 L1020.1,1081.7 L1020.1,1357Z" fill="rgb(14,14,14)"/>
<path d="M559.7,1357 L559.7,1336 L573,1316.5 L585,1296 L597,1272 L609,1254 L627.1,1230 L641.5,1210 L657.1,1192.1 L675.1,1174.1 L693.1,1156.1 L711.1,1140.4 L729.1,1128.4 L747.1,1123.6 L771.2,1116.4 L783.2,1109.2 L800,1102 L815.9,1099 L871.1,1092.8 L926.3,1087.3 L981.5,1083.1 L1020.1,1081.7 L1020.1,1357Z" fill="#000" opacity="0.28" filter="url(#texD2)"/>
<path d="M918,1081 C901.1,1083.3 919.4,1083.8 920.8,1095 C922.2,1106.2 924,1132.3 926.3,1148 C928.6,1163.7 930.9,1176.5 934.6,1189.4 C938.3,1202.3 942.9,1216.9 948.4,1225.2 C953.9,1233.5 959.9,1237.6 967.7,1239 C975.5,1240.4 986.2,1235.8 995.3,1233.5 C1004.3,1231.2 1017.5,1250.6 1022,1225.2 C1026.5,1199.8 1039.3,1105 1022,1081 C1004.7,1057 934.9,1078.7 918,1081Z" fill="#fff" opacity="0.13" filter="url(#b2)"/>
<path d="M580,1357 C640,1300 720,1270 800,1262 C880,1255 950,1270 1020,1300 L1020,1357Z" fill="#444" opacity="0.25" filter="url(#b8)"/>
<path d="M631.9,1192.1 C631.3,1185.5 632.5,1173 633.1,1162 C633.7,1151 634.5,1134 635.5,1126 C636.5,1118 636.5,1118 639.1,1114 C641.7,1110 646.1,1105.4 651.1,1102 C656.1,1098.6 663.1,1095.4 669.1,1093.6 C675.1,1091.8 681.1,1090.6 687.1,1091.2 C693.1,1091.8 700.1,1094.8 705.1,1097.2 C710.1,1099.6 713.1,1103.8 717.1,1105.6 C721.1,1107.4 726.3,1106.2 729.1,1108 C731.9,1109.8 733.8,1113.6 734,1116.4 C734.2,1119.2 733.1,1122 730.3,1124.8 C727.5,1127.6 723.3,1129 717.1,1133.2 C710.9,1137.4 701.1,1143.6 693.1,1150 C685.1,1156.4 676.1,1165.3 669.1,1171.7 C662.1,1178.1 655.7,1183.7 651.1,1188.5 C646.5,1193.3 643.9,1198.3 641.5,1200.5 C639.1,1202.7 638.3,1203.1 636.7,1201.7 C635.1,1200.3 632.5,1198.7 631.9,1192.1Z" fill="none" stroke="#888" stroke-width="2.4" opacity="0.8" filter="url(#b06)"/>
<path d="M560.4,1131 L573,1123.6 L585,1116.4 L597,1105.6 L609,1092.4" fill="none" stroke="#888" stroke-width="2.2" filter="url(#b06)"/>
<path d="M559.7,1131 C561.9,1114.9 568.8,1126 573,1123.6 C577.2,1121.2 581,1119.4 585,1116.4 C589,1113.4 593,1109.6 597,1105.6 C601,1101.6 607.6,1091 609,1092.4 C610.4,1093.8 606.6,1106.4 605.4,1114 C604.2,1121.6 602.6,1130 601.8,1138 C601,1146 601.2,1154 600.6,1162 C600,1170 599.8,1180 598.2,1186 C596.6,1192 594.2,1194.4 591,1198 C587.8,1201.6 583,1204.7 579,1207.7 C575,1210.7 570.2,1214 567,1216 C563.8,1218 560.9,1234.2 559.7,1220 C558.5,1205.8 557.5,1147.1 559.7,1131Z" fill="#fff" opacity="0.45" filter="url(#spk)"/>
<path d="M631.9,1192.1 C631.3,1185.5 632.5,1173 633.1,1162 C633.7,1151 634.5,1134 635.5,1126 C636.5,1118 636.5,1118 639.1,1114 C641.7,1110 646.1,1105.4 651.1,1102 C656.1,1098.6 663.1,1095.4 669.1,1093.6 C675.1,1091.8 681.1,1090.6 687.1,1091.2 C693.1,1091.8 700.1,1094.8 705.1,1097.2 C710.1,1099.6 713.1,1103.8 717.1,1105.6 C721.1,1107.4 726.3,1106.2 729.1,1108 C731.9,1109.8 733.8,1113.6 734,1116.4 C734.2,1119.2 733.1,1122 730.3,1124.8 C727.5,1127.6 723.3,1129 717.1,1133.2 C710.9,1137.4 701.1,1143.6 693.1,1150 C685.1,1156.4 676.1,1165.3 669.1,1171.7 C662.1,1178.1 655.7,1183.7 651.1,1188.5 C646.5,1193.3 643.9,1198.3 641.5,1200.5 C639.1,1202.7 638.3,1203.1 636.7,1201.7 C635.1,1200.3 632.5,1198.7 631.9,1192.1Z" fill="#fff" opacity="0.45" filter="url(#spk)"/>
<path d="M747.1,1123.6 L771.2,1116.4 L783.2,1109.2 L800,1102 L815.9,1099 L871.1,1092.8 L926.3,1087.3 L981.5,1083.1" fill="none" stroke="#8a8a8a" stroke-width="2.2" filter="url(#b06)"/>
<path d="M777,1115 L786,1108" stroke="#e6e6e6" stroke-width="4" filter="url(#b06)"/>
<path d="M576,1317 L586,1302" stroke="#f4f4f4" stroke-width="5" filter="url(#b06)"/>
<path d="M632,1190 L640,1198" stroke="#ccc" stroke-width="6" filter="url(#b1)"/>
<path d="M559.7,1357 L559.7,1336 L573,1316.5 L585,1296 L597,1272 L609,1254 L627.1,1230 L641.5,1210 L657.1,1192.1 L675.1,1174.1 L693.1,1156.1 L711.1,1140.4 L729.1,1128.4 L747.1,1123.6 L771.2,1116.4 L783.2,1109.2 L800,1102 L815.9,1099 L871.1,1092.8 L926.3,1087.3 L981.5,1083.1 L1020.1,1081.7 L1020.1,1357Z" fill="#fff" opacity="0.35" filter="url(#spk)"/>
<rect x="953.9" y="1334.7" width="53.8" height="5.6" fill="#f4f4f4" filter="url(#b06)"/>
</g>
<text x="31.6" y="711.9" font-size="58.07" font-weight="bold" fill="#000" textLength="40.28" lengthAdjust="spacingAndGlyphs" stroke="#000" stroke-width="3.2" stroke-linejoin="round">b</text>
<text x="250" y="719" font-size="48.84" font-weight="normal" fill="#000" textLength="159.68" lengthAdjust="spacingAndGlyphs">Control</text>
<text x="654.1" y="717.2" font-size="49.42" font-weight="normal" fill="#000" textLength="299.42" lengthAdjust="spacingAndGlyphs">MRGPRD-Abl</text>
<text x="255.1" y="1070.7" font-size="48.84" font-weight="normal" fill="#000" textLength="155.60" lengthAdjust="spacingAndGlyphs">Vehicle</text>
<text x="560.3" y="1069.3" font-size="47.59" font-weight="normal" fill="#000" textLength="464.36" lengthAdjust="spacingAndGlyphs">i.t. capsaicin injection</text>
<text transform="translate(74.1,969.8) rotate(-90)" x="0" y="0" font-size="51.00" font-weight="normal" fill="#000" textLength="210.53" lengthAdjust="spacingAndGlyphs">MRGPRD</text>
<text transform="translate(78.7,1282.8) rotate(-90)" x="0" y="0" font-size="52.03" font-weight="normal" fill="#000" textLength="142.42" lengthAdjust="spacingAndGlyphs">TRPV1</text>
<path d="M679.3,279.3 C681.2,275.6 685.5,263.4 690.5,256.9 C695.5,250.4 702,244.3 709.1,240.1 C716.2,235.9 724,233.4 733.3,231.7 C742.6,230 755,230.1 765,229.9 C775,229.8 785.5,230 793,230.8 C800.5,231.6 803.5,232 809.7,234.5 C815.9,237 823.5,241.6 830.2,245.7 C836.9,249.8 844.1,254.6 850,259 C855.9,263.4 861,267.3 865.8,272.3 C870.6,277.3 874.4,282.3 878.7,289 C883,295.7 887.3,305.4 891.6,312.3 C895.9,319.2 900.2,324.5 904.5,330.3 C908.8,336.1 913.1,341.3 917.4,347.1 C921.7,352.9 926,359.8 930.3,365.2 C934.6,370.6 938.9,375.5 943.2,379.4 C947.5,383.3 951.8,385.6 956.1,388.4 C960.4,391.2 964.7,394.6 969,396.1 C973.3,397.6 976.5,397.6 981.9,397.4 C987.3,397.2 998.1,395.2 1001.3,394.8 L1001.3,479.6 C999.4,479.2 994.4,477.5 990,477 C985.6,476.5 980,475.7 975,476.5 C970,477.3 965.2,479.9 960,482 C954.8,484.1 949.4,485.9 943.9,489 C938.4,492.1 933.2,496.5 927.3,500.9 C921.4,505.2 914.3,509.6 908.4,515.1 C902.5,520.6 896.9,526.9 891.8,534 C886.7,541.1 882.3,549.7 877.6,557.6 C872.9,565.5 868.2,573.4 863.5,581.3 C858.8,589.2 854,597.5 849.3,605 C844.6,612.5 841,619.2 835.1,626.3 C829.2,633.4 820.9,642.2 813.8,647.5 C806.7,652.8 800.4,656 792.5,658.2 C784.6,660.4 774.4,661.2 766.5,660.6 C758.6,660 752.3,658.4 745.2,654.6 C738.1,650.9 729.8,644 723.9,638.1 C718,632.2 713.1,626.3 709.7,619.2 C706.4,612.1 705,604.6 703.8,595.5 C702.6,586.4 702.2,573.8 702.6,564.7 C703,555.6 703.4,547.4 706.1,541.1 C708.9,534.8 714.2,532.8 719.1,526.9 C724,521 731,512.3 735.7,505.6 C740.4,498.9 744.9,493.4 747.5,486.7 C750.1,480 750.9,472.9 751.1,465.4 C751.3,457.9 750.9,449.2 748.7,441.7 C746.5,434.2 743.8,427.5 738.1,420.4 C732.4,413.3 721.9,406.6 714.4,399.1 C706.9,391.6 698.2,385.4 693.1,375.5 C688,365.6 686.4,350.9 683.7,340 C681,329.1 677.7,320.1 677,310 C676.3,299.9 678.9,284.4 679.3,279.3Z" fill="#d8d8d8" stroke="#f3f3f3" stroke-width="8" paint-order="stroke" stroke-linejoin="round"/>
<ellipse cx="985.4" cy="440.1" rx="7.2" ry="12.9" fill="none" stroke="#858585" stroke-width="7.4"/>
<path d="M679.3,290 C681.2,287 686.1,277 690.5,271.8 C694.9,266.6 700.1,262.5 705.4,258.8 C710.7,255.1 716.5,252 722.1,249.5 C727.7,247 733.3,245.5 738.9,243.9 C744.5,242.3 749.8,240.9 755.7,240.1 C761.6,239.3 768.1,239.3 774.3,239.2 C780.5,239 786.8,238.7 793,239.2 C799.2,239.7 805.4,240 811.6,242 C817.8,244 824,247.6 830.2,251.3 C836.4,255 843.4,260.8 848.9,264.4 C854.4,268 860.6,271.6 863,273" fill="none" stroke="#555" stroke-width="2.6" stroke-dasharray="8,5.5"/>
<path d="M675.5,322.1 C677.4,319.6 682.4,311.9 686.7,307.2 C691.1,302.5 696.3,298.2 701.6,294.2 C706.9,290.2 712.5,286.4 718.4,283 C724.3,279.6 730.8,276.5 737,273.7 C743.2,270.9 749.5,268.1 755.7,266.2 C761.9,264.3 768.1,263.4 774.3,262.5 C780.5,261.6 787.7,260.8 793,260.6 C798.3,260.5 801.4,260.7 806,261.6 C810.6,262.5 815.3,264.2 820.9,266.2 C826.5,268.2 833.3,271.2 839.5,273.7 C845.7,276.2 852,278.6 858.2,281.2 C864.5,283.8 873.9,287.7 877,289" fill="none" stroke="#555" stroke-width="2.6" stroke-dasharray="8,5.5"/>
<line x1="113.5" y1="148.7" x2="299.5" y2="148.7" stroke="#444" stroke-width="3" stroke-linecap="round"/>
<line x1="113.5" y1="160.2" x2="299.5" y2="160.2" stroke="#444" stroke-width="3" stroke-linecap="round"/>
<line x1="113.5" y1="263.9" x2="299.5" y2="263.9" stroke="#444" stroke-width="3" stroke-linecap="round"/>
<line x1="112" y1="194.3" x2="300" y2="194.3" stroke="#555" stroke-width="3" stroke-dasharray="9.4,9" stroke-linecap="butt"/>
<line x1="112" y1="223.1" x2="300" y2="223.1" stroke="#555" stroke-width="3" stroke-dasharray="9.4,9" stroke-linecap="butt"/>
<path d="M225.6,190 C225.6,195.5 225.4,215 225.6,223.1 C225.8,231.2 225.8,232.9 226.9,238.4 C228,243.9 229,251.2 232,256.3 C235,261.4 238.8,264.3 244.7,269 C250.6,273.7 257.4,279.6 267.6,284.3 C277.8,289 293.1,294.1 305.9,297.1 C318.6,300.1 331.4,301.2 344.1,302.2 C356.9,303.2 371.1,303.6 382.4,303.2 C393.6,302.8 403.3,301.8 411.6,300 C419.9,298.2 426.6,295.2 432.3,292.3 C438,289.4 440.9,287 446,282.8 C451.1,278.6 457.8,272.5 463.2,267.3 C468.6,262.1 476.1,254.4 478.7,251.8" fill="none" stroke="#3f6fa8" stroke-width="2.8" stroke-linecap="round" stroke-linejoin="round"/>
<path d="M216.2,178.5 C217.8,180.4 222.3,190 225.6,190 C228.9,190 234.1,180.4 235.8,178.5" fill="none" stroke="#3f6fa8" stroke-width="2.8" stroke-linecap="round" stroke-linejoin="round"/>
<path d="M478.7,251.8 C480.4,253.2 485.9,258.8 489,260.4 C492.1,262 494.2,262.1 497.6,261.3 C501.1,260.5 505.4,257.7 509.7,255.3 C514,252.9 518.2,249.6 523.4,246.7 C528.5,243.8 534.5,241.3 540.6,238 C546.7,234.7 553.7,231.1 560,227.1 C566.3,223.1 572.4,216.9 578.6,214 C584.8,211.1 589.5,211.1 597.3,209.4 C605.1,207.7 615.9,206 625.2,203.8 C634.5,201.6 643.9,198.9 653.2,196.3 C662.5,193.7 671.8,190.3 681.1,188 C690.4,185.7 701.3,184 709.1,182.4 C716.9,180.8 723.1,179.5 727.7,178.6 C732.4,177.7 732.3,177 737,176.8 C741.7,176.7 749.5,176.5 755.7,177.7 C761.9,178.9 769,181.2 774.3,184.2 C779.6,187.1 783.7,191.1 787.4,195.4 C791.1,199.8 794.5,205.3 796.7,210.3 C798.9,215.3 799.6,220.2 800.4,225.2 C801.2,230.2 801.4,236 801.3,240.1 C801.1,244.2 799.8,248.3 799.5,250" fill="none" stroke="#3f6fa8" stroke-width="2.8" stroke-linecap="round" stroke-linejoin="round"/>
<path d="M791.1,258.8 C792.5,257.3 797.6,249.7 799.5,250 C801.4,250.3 801.8,258.8 802.3,260.6" fill="none" stroke="#3f6fa8" stroke-width="2.8" stroke-linecap="round" stroke-linejoin="round"/>
<line x1="478.2" y1="226" x2="478.7" y2="252" stroke="#3f6fa8" stroke-width="2.8"/>
<circle cx="477.8" cy="218.6" r="10.2" fill="#3a64a0" stroke="#2d5590" stroke-width="1"/>
<path d="M164.4,209.1 C166.1,211.2 171.2,221.5 174.6,221.9 C178,222.3 183.1,213.4 184.8,211.7" fill="none" stroke="#dc3c44" stroke-width="2.8" stroke-linecap="round" stroke-linejoin="round"/>
<path d="M174.6,221.9 C175.7,224.7 179.3,233.1 181,238.4 C182.7,243.7 184,248.6 184.8,253.7 C185.7,258.8 185.8,264.3 186.1,269 C186.3,273.7 186.3,279.8 186.3,282" fill="none" stroke="#dc3c44" stroke-width="2.8" stroke-linecap="round" stroke-linejoin="round"/>
<path d="M186.3,282 C184.1,283.7 178.4,286.9 173.3,292 C168.2,297.1 158.5,309 155.5,312.4" fill="none" stroke="#dc3c44" stroke-width="2.8" stroke-linecap="round" stroke-linejoin="round"/>
<path d="M165.7,295.8 C163.4,294.9 154,291.6 151.7,290.7" fill="none" stroke="#dc3c44" stroke-width="2.8" stroke-linecap="round" stroke-linejoin="round"/>
<path d="M186.3,282 C186.7,283.7 186.9,288.2 188.6,292 C190.3,295.8 192.5,300.4 196.3,304.7 C200.1,308.9 203.9,313.2 211.6,317.5 C219.2,321.8 230.7,325.5 242.2,330.2 C253.7,334.9 269.8,341.7 280.4,345.5 C291,349.3 297.4,351.4 305.9,353.1 C314.4,354.8 323.5,355 331.4,355.7 C339.2,356.4 346.6,356.8 353,357.2 C359.4,357.6 364.7,356.8 369.6,358.2 C374.5,359.6 378.1,362.5 382.4,365.9 C386.6,369.3 390.9,375.4 395.1,378.6 C399.4,381.8 401.5,383.5 407.9,385 C414.3,386.5 424.8,387.4 433.3,387.6 C441.8,387.8 450.3,386.7 458.8,386.3 C467.3,385.9 477.9,385.3 484.3,385 C490.7,384.7 491.1,385.1 497,384.5 C502.9,383.9 512.7,382.9 520,381.2 C527.3,379.4 534.3,377.9 540.6,374 C546.9,370.1 553.5,365.5 557.8,358 C562.1,350.5 564.2,338.3 566.5,329.2 C568.8,320.1 570.2,310.3 571.6,303.4 C573,296.5 573.8,291.7 575,288 C576.2,284.3 576.8,283.2 578.6,281.1 C580.5,279 584.9,276.4 586.1,275.5" fill="none" stroke="#dc3c44" stroke-width="2.8" stroke-linecap="round" stroke-linejoin="round"/>
<path d="M353,357.2 C348.6,359.6 334.3,366.7 326.5,371.8 C318.7,376.9 311.1,381.8 306,388 C300.9,394.2 297.7,403.6 295.6,408.8 C293.5,414 293.9,417.3 293.5,419" fill="none" stroke="#dc3c44" stroke-width="2.8" stroke-linecap="round" stroke-linejoin="round"/>
<path d="M293.5,419 C291.4,423.5 283.9,437.5 281,446 C278.1,454.5 277.4,462.7 276,470 C274.6,477.3 273.5,482.6 272.5,490 C271.5,497.4 271,507.1 270.2,514.1 C269.4,521.1 268,529 267.6,532" fill="none" stroke="#dc3c44" stroke-width="2.8" stroke-linecap="round" stroke-linejoin="round"/>
<path d="M266.4,515.4 C264.9,516.9 259,522.8 257.5,524.3" fill="none" stroke="#dc3c44" stroke-width="2.8" stroke-linecap="round" stroke-linejoin="round"/>
<path d="M293.5,419 C294.2,423.5 295.5,438.7 297.6,446 C299.7,453.3 302.9,457.8 306,463 C309.1,468.2 312,472.2 316,477 C320,481.8 324.8,487.2 330,492 C335.2,496.8 341.2,502.1 347,505.6 C352.8,509.1 358.8,510.9 365,513 C371.2,515.1 376.5,515.8 384,518.5 C391.5,521.2 401.8,525.9 410,529 C418.2,532.1 429.4,535.7 433.3,537" fill="none" stroke="#dc3c44" stroke-width="2.8" stroke-linecap="round" stroke-linejoin="round"/>
<path d="M446.1,538.3 C444,538.1 433.9,534.9 433.3,537 C432.7,539.1 440.8,548.8 442.3,551.1" fill="none" stroke="#dc3c44" stroke-width="2.8" stroke-linecap="round" stroke-linejoin="round"/>
<path d="M586.1,275.5 C588,272.4 592.3,262.8 597.3,256.9 C602.3,251 609.7,244.8 615.9,240.1 C622.1,235.4 628.3,231.9 634.5,229 C640.7,226.1 647,224 653.2,222.4 C659.4,220.8 665.6,220 671.8,219.6 C678,219.2 684.3,219.4 690.5,220 C696.7,220.6 704.5,221.9 709.1,223.4 C713.8,224.9 716.2,226.5 718.4,229 C720.6,231.5 721.2,235.8 722.1,238.3 C723,240.8 723.7,243.1 724,244" fill="none" stroke="#dc3c44" stroke-width="2.8" stroke-linecap="round" stroke-linejoin="round"/>
<path d="M720.3,245.7 C720.9,245.4 722.5,244.2 724,244 C725.5,243.8 728.7,244.7 729.6,244.8" fill="none" stroke="#dc3c44" stroke-width="2.8" stroke-linecap="round" stroke-linejoin="round"/>
<path d="M586.1,275.5 C588,275.2 592.3,274 597.3,273.7 C602.3,273.4 609.7,273.2 615.9,273.7 C622.1,274.2 628.3,274.9 634.5,276.5 C640.7,278.1 647,280.4 653.2,283 C659.4,285.6 665.6,288.3 671.8,292.3 C678,296.3 684.3,301.3 690.5,307.2 C696.7,313.1 703.8,321.5 709.1,327.7 C714.4,333.9 717.5,339.8 722.1,344.5 C726.8,349.2 732,352.9 737,355.7 C742,358.5 748.5,360 752,361.3 C755.5,362.6 757,363.1 758,363.5" fill="none" stroke="#dc3c44" stroke-width="2.8" stroke-linecap="round" stroke-linejoin="round"/>
<path d="M765,359.4 C763.8,360.1 758.3,361.3 758,363.5 C757.7,365.7 762.2,370.9 763.1,372.4" fill="none" stroke="#dc3c44" stroke-width="2.8" stroke-linecap="round" stroke-linejoin="round"/>
<line x1="497" y1="362" x2="497" y2="385" stroke="#dc3c44" stroke-width="2.8"/>
<circle cx="496.9" cy="353.5" r="10.2" fill="#ee0a0a"/>
<g fill="none" stroke-linecap="round">
<path d="M176,533 C205,518 232,512 256,512.5 C282,513 312,522 340.5,533" stroke="#555" stroke-width="3"/>
<path d="M176,551 C205,566 232,571.5 256,571.5 C282,571 312,562 341,551" stroke="#555" stroke-width="3"/>
<path d="M176,533 L176,551 M341,533 L341,551" stroke="#888" stroke-width="2.5"/>
<path d="M178,535.4 C215,521 300,521 339,535.4" stroke="#aaa" stroke-width="2"/>
<path d="M178,538.7 C215,531.5 300,531.5 339,538.7" stroke="#aaa" stroke-width="2"/>
<path d="M178,542 C215,542 300,542 339,542" stroke="#aaa" stroke-width="2"/>
<path d="M178,545.3 C215,552.5 300,552.5 339,545.3" stroke="#aaa" stroke-width="2"/>
<path d="M178,548.6 C215,563 300,563 339,548.6" stroke="#aaa" stroke-width="2"/>
</g>
<path d="M430.8,482.3 C431,486 433,489 435,488 C440,484 450,481.5 458,483.5 C474,487 487,498 493,515 C498,531 497,553 492,568 C486,583 472,594 455,598 C440,601 420,595 405,587 C395,581 389,575 383,575 C377,576 377.5,585 377.5,591" fill="none" stroke="#555" stroke-width="2.8" stroke-linecap="round"/>
<path d="M414.2,483.5 C414,490 418,496 418.5,505 C419,515 421,525 425,534 C429,543 429,553 425,558 C420,563 408,562 396,562 C382,563 370,566 366,575 C362,583 362,589 362,594.4" fill="none" stroke="#555" stroke-width="2.8" stroke-linecap="round"/>
<text x="32.1" y="128.7" font-size="58.70" font-weight="bold" fill="#000" textLength="33.79" lengthAdjust="spacingAndGlyphs" stroke="#000" stroke-width="3.2" stroke-linejoin="round">a</text>
<text x="104.7" y="131.5" font-size="50.72" font-weight="normal" fill="#000" textLength="215.83" lengthAdjust="spacingAndGlyphs">Epidermis</text>
<text x="366" y="185.1" font-size="44.93" font-weight="normal" fill="#1a3acb" textLength="192.20" lengthAdjust="spacingAndGlyphs">MRGPRD</text>
<path d="M567.3,155.5 V170 M559.6,162.7 H575" stroke="#1a3acb" stroke-width="2"/>
<text x="403.6" y="339.2" font-size="43.04" font-weight="normal" fill="#f00000" textLength="129.54" lengthAdjust="spacingAndGlyphs">TRPV1</text>
<path d="M548.3,309.5 V325 M540.6,317.2 H556.1" stroke="#f00000" stroke-width="2"/>
<text x="30.5" y="354" font-size="46.81" font-weight="normal" fill="#000" textLength="153.56" lengthAdjust="spacingAndGlyphs">Dermis</text>
<text x="100.5" y="506.5" font-size="48.12" font-weight="normal" fill="#000" textLength="158.07" lengthAdjust="spacingAndGlyphs">Muscle</text>
<text x="388.2" y="452.2" font-size="48.84" font-weight="normal" fill="#000" textLength="328.28" lengthAdjust="spacingAndGlyphs">Visceral organs</text>
<text x="825.8" y="219.6" font-size="48.55" font-weight="normal" fill="#000" textLength="82.01" lengthAdjust="spacingAndGlyphs">I/IIo</text>
<text x="868.7" y="266.2" font-size="47.25" font-weight="normal" fill="#000" textLength="35.66" lengthAdjust="spacingAndGlyphs">Iii</text>
<text x="1298.2" y="76.7" font-size="49.71" font-weight="normal" fill="#000" textLength="134.76" lengthAdjust="spacingAndGlyphs">Reflex</text>
<line x1="1160" y1="88.6" x2="1578" y2="88.6" stroke="#000" stroke-width="3.8"/>
<text x="1746.1" y="75.9" font-size="50.14" font-weight="normal" fill="#000" textLength="154.86" lengthAdjust="spacingAndGlyphs">Licking</text>
<line x1="1614" y1="88.8" x2="2024.7" y2="88.8" stroke="#000" stroke-width="3.8"/>
<text x="1056" y="128.6" font-size="57.59" font-weight="bold" fill="#000" textLength="36.47" lengthAdjust="spacingAndGlyphs" stroke="#000" stroke-width="3.2" stroke-linejoin="round">c</text>
<circle cx="1460.6" cy="134.4" r="12.1" fill="none" stroke="#000" stroke-width="1.9"/>
<text x="1477.4" y="147" font-size="43.91" font-weight="normal" fill="#000" textLength="70.63" lengthAdjust="spacingAndGlyphs">Ctrl</text>
<path d="M1597.3,125.4 L1620.7,125.4 L1609,144.2Z" fill="none" stroke="#000" stroke-width="1.9"/>
<text x="1628.7" y="147" font-size="43.91" font-weight="normal" fill="#000" textLength="268.17" lengthAdjust="spacingAndGlyphs">MRGPRD-Abl</text>
<text x="1343.7" y="206.2" font-size="43.91" font-weight="normal" fill="#000" textLength="163.82" lengthAdjust="spacingAndGlyphs">von Frey</text>
<text x="1843.4" y="200.2" font-size="44.35" font-weight="normal" fill="#000" textLength="110.90" lengthAdjust="spacingAndGlyphs">Pinch</text>
<path d="M1435.4,618 L1460.6,618 L1448,598.4Z" fill="none" stroke="#000" stroke-width="1.9"/>
<text x="1472.5" y="622.5" font-size="43.91" font-weight="normal" fill="#000" textLength="137.22" lengthAdjust="spacingAndGlyphs">Vehicle</text>
<rect x="1654" y="600.1" width="21.3" height="21.4" fill="none" stroke="#000" stroke-width="1.9"/>
<text x="1676.9" y="622.5" font-size="43.91" font-weight="normal" fill="#000" textLength="144.61" lengthAdjust="spacingAndGlyphs">i.t. cap.</text>
<text x="1352.4" y="667" font-size="42.90" font-weight="normal" fill="#000" textLength="162.82" lengthAdjust="spacingAndGlyphs">von Frey</text>
<text x="1843.4" y="660" font-size="42.75" font-weight="normal" fill="#000" textLength="110.90" lengthAdjust="spacingAndGlyphs">Pinch</text>
<text x="1330.2" y="1025.9" font-size="43.48" font-weight="normal" fill="#000" textLength="235.84" lengthAdjust="spacingAndGlyphs">Cold plantar</text>
<text x="1808.4" y="1025.9" font-size="43.48" font-weight="normal" fill="#000" textLength="200.26" lengthAdjust="spacingAndGlyphs">Cold plate</text>
<text transform="translate(1089.3,560.6) rotate(-90)" x="0" y="0" font-size="46.76" font-weight="normal" fill="#000" textLength="393.76" lengthAdjust="spacingAndGlyphs">MRGPRD ablation</text>
<text transform="translate(1086.2,1136.9) rotate(-90)" x="0" y="0" font-size="46.50" font-weight="normal" fill="#000" textLength="141.40" lengthAdjust="spacingAndGlyphs">TRPV1</text>
<text transform="translate(1086.2,977.3) rotate(-90)" x="0" y="0" font-size="46.50" font-weight="normal" fill="#000" textLength="174.58" lengthAdjust="spacingAndGlyphs">ablation</text>
<text transform="translate(1156.5,483) rotate(-90)" x="0" y="0" font-size="39.59" font-weight="normal" fill="#000" textLength="201.69" lengthAdjust="spacingAndGlyphs">Withdrawal</text>
<text transform="translate(1203.5,492.6) rotate(-90)" x="0" y="0" font-size="38.48" font-weight="normal" fill="#000" textLength="221.82" lengthAdjust="spacingAndGlyphs">threshold (g)</text>
<text transform="translate(1157,904.8) rotate(-90)" x="0" y="0" font-size="40.41" font-weight="normal" fill="#000" textLength="198.75" lengthAdjust="spacingAndGlyphs">Withdrawal</text>
<text transform="translate(1205.5,913.9) rotate(-90)" x="0" y="0" font-size="38.76" font-weight="normal" fill="#000" textLength="219.39" lengthAdjust="spacingAndGlyphs">threshold (g)</text>
<text transform="translate(1157,1299.5) rotate(-90)" x="0" y="0" font-size="40.41" font-weight="normal" fill="#000" textLength="201.69" lengthAdjust="spacingAndGlyphs">Withdrawal</text>
<text transform="translate(1205.5,1290.2) rotate(-90)" x="0" y="0" font-size="38.76" font-weight="normal" fill="#000" textLength="183.47" lengthAdjust="spacingAndGlyphs">latency (s)</text>
<text transform="translate(1680.3,563.4) rotate(-90)" x="0" y="0" font-size="39.17" font-weight="normal" fill="#000" textLength="339.57" lengthAdjust="spacingAndGlyphs">Licking duration (s)</text>
<text transform="translate(1680,1001) rotate(-90)" x="0" y="0" font-size="39.31" font-weight="normal" fill="#000" textLength="341.91" lengthAdjust="spacingAndGlyphs">Licking duration (s)</text>
<text transform="translate(1680,1395.6) rotate(-90)" x="0" y="0" font-size="39.31" font-weight="normal" fill="#000" textLength="363.16" lengthAdjust="spacingAndGlyphs">No. of lick episodes</text>
<path d="M1309.1,239.5 V555.6 M1298.6,555.6 H1538.6 M1298.6,241 H1309.1 M1298.6,303.9 H1309.1 M1298.6,366.8 H1309.1 M1298.6,429.8 H1309.1 M1298.6,492.7 H1309.1" stroke="#1e1e1e" stroke-width="3.4" fill="none"/>
<text x="1238.1" y="260.2" font-size="40.5">2.5</text>
<text x="1237.9" y="322" font-size="40.5">2.0</text>
<text x="1238.1" y="383.8" font-size="40.5">1.5</text>
<text x="1237.9" y="445.6" font-size="40.5">1.0</text>
<text x="1238.1" y="507.4" font-size="40.5">0.5</text>
<text x="1271.7" y="569.2" font-size="40.5">0</text>
<line x1="1383" y1="252.8" x2="1472.8" y2="252.8" stroke="#000" stroke-width="3.6"/>
<text x="1408.9" y="257" font-size="40.57" textLength="36.22" lengthAdjust="spacingAndGlyphs">**</text>
<circle cx="1390.8" cy="461.6" r="8.9" fill="none" stroke="#4a4a4a" stroke-width="2.8"/>
<circle cx="1373.2" cy="495.5" r="8.9" fill="none" stroke="#4a4a4a" stroke-width="2.8"/>
<circle cx="1408.3" cy="491.1" r="8.9" fill="none" stroke="#4a4a4a" stroke-width="2.8"/>
<circle cx="1390.8" cy="496.7" r="8.9" fill="none" stroke="#4a4a4a" stroke-width="2.8"/>
<circle cx="1376.3" cy="515.5" r="8.9" fill="none" stroke="#4a4a4a" stroke-width="2.8"/>
<circle cx="1404" cy="515.5" r="8.9" fill="none" stroke="#4a4a4a" stroke-width="2.8"/>
<circle cx="1400.2" cy="520" r="8.9" fill="none" stroke="#4a4a4a" stroke-width="2.8"/>
<circle cx="1383.2" cy="532.5" r="8.9" fill="none" stroke="#4a4a4a" stroke-width="2.8"/>
<circle cx="1392" cy="510" r="8.9" fill="none" stroke="#4a4a4a" stroke-width="2.8"/>
<path d="M1360.7,503.6 H1421.5 M1376.3,495.5 H1404.6 M1376.3,511.2 H1404.6 M1390.8,495.5 V511.2" stroke="#111" stroke-width="3.4" fill="none"/>
<path d="M1462,267.9 L1477,267.9 L1469.5,282.5Z" fill="none" stroke="#4a4a4a" stroke-width="2.9" stroke-linejoin="miter"/>
<path d="M1462,351.3 L1477,351.3 L1469.5,365.9Z" fill="none" stroke="#4a4a4a" stroke-width="2.9" stroke-linejoin="miter"/>
<path d="M1462,382.7 L1477,382.7 L1469.5,397.3Z" fill="none" stroke="#4a4a4a" stroke-width="2.9" stroke-linejoin="miter"/>
<path d="M1444.8,425.7 L1459.8,425.7 L1452.3,440.3Z" fill="none" stroke="#4a4a4a" stroke-width="2.9" stroke-linejoin="miter"/>
<path d="M1461.7,425.7 L1476.7,425.7 L1469.2,440.3Z" fill="none" stroke="#4a4a4a" stroke-width="2.9" stroke-linejoin="miter"/>
<path d="M1477.4,425.7 L1492.4,425.7 L1484.9,440.3Z" fill="none" stroke="#4a4a4a" stroke-width="2.9" stroke-linejoin="miter"/>
<path d="M1474.2,428.7 L1489.2,428.7 L1481.7,443.3Z" fill="none" stroke="#4a4a4a" stroke-width="2.9" stroke-linejoin="miter"/>
<path d="M1448.5,454.2 L1463.5,454.2 L1456,468.8Z" fill="none" stroke="#4a4a4a" stroke-width="2.9" stroke-linejoin="miter"/>
<path d="M1439,402.9 H1500 M1454.8,381.9 H1484.3 M1454.8,424 H1484.3 M1469.3,381.9 V424" stroke="#111" stroke-width="3.4" fill="none"/>
<path d="M1766.1,231.6 V553.8 M1758.6,553.8 H2023.8 M1758.6,233.1 H1766.1 M1758.6,313.3 H1766.1 M1758.6,393.5 H1766.1 M1758.6,473.6 H1766.1" stroke="#1e1e1e" stroke-width="3.4" fill="none"/>
<text x="1702.5" y="253.2" font-size="40.5">20</text>
<text x="1702.7" y="331.7" font-size="40.5">15</text>
<text x="1702.5" y="410.2" font-size="40.5">10</text>
<text x="1725.1" y="488.8" font-size="40.5">5</text>
<text x="1724.9" y="567.3" font-size="40.5">0</text>
<line x1="1854.8" y1="273.1" x2="1945.2" y2="273.1" stroke="#000" stroke-width="3.6"/>
<text x="1870.1" y="260.1" font-size="40.71" font-weight="normal" fill="#000" textLength="56.56" lengthAdjust="spacingAndGlyphs">NS</text>
<circle cx="1849.4" cy="300.6" r="7.5" fill="none" stroke="#4a4a4a" stroke-width="2.5"/>
<circle cx="1834.4" cy="321.6" r="7.5" fill="none" stroke="#4a4a4a" stroke-width="2.5"/>
<circle cx="1864.5" cy="334.5" r="7.5" fill="none" stroke="#4a4a4a" stroke-width="2.5"/>
<circle cx="1849.4" cy="338.4" r="7.5" fill="none" stroke="#4a4a4a" stroke-width="2.5"/>
<circle cx="1849.4" cy="386.1" r="7.5" fill="none" stroke="#4a4a4a" stroke-width="2.5"/>
<circle cx="1860.2" cy="397.1" r="7.5" fill="none" stroke="#4a4a4a" stroke-width="2.5"/>
<circle cx="1838.3" cy="413.2" r="7.5" fill="none" stroke="#4a4a4a" stroke-width="2.5"/>
<path d="M1824,356.1 H1875.3 M1837,339.3 H1861.8 M1837,372 H1861.8 M1849.2,339.3 V372" stroke="#111" stroke-width="3.4" fill="none"/>
<path d="M1947.6,320.4 L1959.4,320.4 L1953.5,331.8Z" fill="none" stroke="#4a4a4a" stroke-width="2.6" stroke-linejoin="miter"/>
<path d="M1932.8,352 L1944.6,352 L1938.7,363.4Z" fill="none" stroke="#4a4a4a" stroke-width="2.6" stroke-linejoin="miter"/>
<path d="M1962.4,347.5 L1974.2,347.5 L1968.3,358.9Z" fill="none" stroke="#4a4a4a" stroke-width="2.6" stroke-linejoin="miter"/>
<path d="M1947.6,361 L1959.4,361 L1953.5,372.4Z" fill="none" stroke="#4a4a4a" stroke-width="2.6" stroke-linejoin="miter"/>
<path d="M1947.6,386.2 L1959.4,386.2 L1953.5,397.6Z" fill="none" stroke="#4a4a4a" stroke-width="2.6" stroke-linejoin="miter"/>
<path d="M1947.6,418.4 L1959.4,418.4 L1953.5,429.8Z" fill="none" stroke="#4a4a4a" stroke-width="2.6" stroke-linejoin="miter"/>
<path d="M1958.6,444.2 L1970.4,444.2 L1964.5,455.6Z" fill="none" stroke="#4a4a4a" stroke-width="2.6" stroke-linejoin="miter"/>
<path d="M1936.6,452 L1948.4,452 L1942.5,463.4Z" fill="none" stroke="#4a4a4a" stroke-width="2.6" stroke-linejoin="miter"/>
<path d="M1928.4,392.5 H1978.8 M1941.5,374.8 H1965.7 M1941.5,409.8 H1965.7 M1953.6,374.8 V409.8" stroke="#111" stroke-width="3.4" fill="none"/>
<path d="M1309.6,655.9 V980.2 M1298.4,980.2 H1553.4 M1298.4,657.4 H1309.6 M1298.4,722 H1309.6 M1298.4,786.5 H1309.6 M1298.4,851.1 H1309.6 M1298.4,915.6 H1309.6" stroke="#1e1e1e" stroke-width="3.4" fill="none"/>
<text x="1238.1" y="678.2" font-size="40.5">2.5</text>
<text x="1237.9" y="740" font-size="40.5">2.0</text>
<text x="1238.1" y="801.8" font-size="40.5">1.5</text>
<text x="1237.9" y="863.6" font-size="40.5">1.0</text>
<text x="1238.1" y="925.4" font-size="40.5">0.5</text>
<text x="1271.7" y="987.2" font-size="40.5">0</text>
<line x1="1381.9" y1="765" x2="1472.3" y2="765" stroke="#000" stroke-width="3.6"/>
<text x="1398.2" y="752.5" font-size="41.57" font-weight="normal" fill="#000" textLength="56.56" lengthAdjust="spacingAndGlyphs">NS</text>
<path d="M1377.3,819.7 L1392.1,819.7 L1384.7,805.3Z" fill="none" stroke="#4a4a4a" stroke-width="2.8" stroke-linejoin="miter"/>
<path d="M1377.3,861.7 L1392.1,861.7 L1384.7,847.3Z" fill="none" stroke="#4a4a4a" stroke-width="2.8" stroke-linejoin="miter"/>
<path d="M1377.3,890.5 L1392.1,890.5 L1384.7,876.1Z" fill="none" stroke="#4a4a4a" stroke-width="2.8" stroke-linejoin="miter"/>
<path d="M1395,903.6 L1409.8,903.6 L1402.4,889.2Z" fill="none" stroke="#4a4a4a" stroke-width="2.8" stroke-linejoin="miter"/>
<path d="M1351.2,922.2 L1366,922.2 L1358.6,907.8Z" fill="none" stroke="#4a4a4a" stroke-width="2.8" stroke-linejoin="miter"/>
<path d="M1359.6,933.4 L1374.4,933.4 L1367,919Z" fill="none" stroke="#4a4a4a" stroke-width="2.8" stroke-linejoin="miter"/>
<path d="M1377.3,924.1 L1392.1,924.1 L1384.7,909.7Z" fill="none" stroke="#4a4a4a" stroke-width="2.8" stroke-linejoin="miter"/>
<path d="M1395,936.2 L1409.8,936.2 L1402.4,921.8Z" fill="none" stroke="#4a4a4a" stroke-width="2.8" stroke-linejoin="miter"/>
<path d="M1377.3,951.2 L1392.1,951.2 L1384.7,936.8Z" fill="none" stroke="#4a4a4a" stroke-width="2.8" stroke-linejoin="miter"/>
<path d="M1354.5,896 H1415.5 M1369.8,882.4 H1399.6 M1369.8,910.4 H1399.6 M1385,882.4 V910.4" stroke="#111" stroke-width="3.4" fill="none"/>
<rect x="1471" y="802.8" width="17.7" height="17.7" fill="none" stroke="#4a4a4a" stroke-width="2.8"/>
<rect x="1471" y="844.6" width="17.7" height="17.7" fill="none" stroke="#4a4a4a" stroke-width="2.8"/>
<rect x="1455.2" y="885.6" width="17.7" height="17.7" fill="none" stroke="#4a4a4a" stroke-width="2.8"/>
<rect x="1484" y="885.6" width="17.7" height="17.7" fill="none" stroke="#4a4a4a" stroke-width="2.8"/>
<rect x="1461.7" y="904.4" width="17.7" height="17.7" fill="none" stroke="#4a4a4a" stroke-width="2.8"/>
<rect x="1480.2" y="906.1" width="17.7" height="17.7" fill="none" stroke="#4a4a4a" stroke-width="2.8"/>
<rect x="1453.2" y="918.2" width="17.7" height="17.7" fill="none" stroke="#4a4a4a" stroke-width="2.8"/>
<rect x="1470.1" y="941.5" width="17.7" height="17.7" fill="none" stroke="#4a4a4a" stroke-width="2.8"/>
<rect x="1488.7" y="941.5" width="17.7" height="17.7" fill="none" stroke="#4a4a4a" stroke-width="2.8"/>
<path d="M1449,901.6 H1509.6 M1464,886.1 H1494.7 M1464,916.9 H1494.7 M1479.5,886.1 V916.9" stroke="#111" stroke-width="3.4" fill="none"/>
<path d="M1770.4,661.7 V978.2 M1762,978.2 H2009.6 M1762,663.2 H1770.4 M1762,715.6 H1770.4 M1762,768 H1770.4 M1762,820.4 H1770.4 M1762,872.8 H1770.4 M1762,925.2 H1770.4" stroke="#1e1e1e" stroke-width="3.4" fill="none"/>
<text x="1708.4" y="676.7" font-size="40.5">30</text>
<text x="1708.6" y="728.4" font-size="40.5">25</text>
<text x="1708.4" y="780.2" font-size="40.5">20</text>
<text x="1708.6" y="831.9" font-size="40.5">15</text>
<text x="1708.4" y="883.7" font-size="40.5">10</text>
<text x="1731" y="935.4" font-size="40.5">5</text>
<text x="1730.8" y="987.2" font-size="40.5">0</text>
<line x1="1848.7" y1="695.7" x2="1939.2" y2="695.7" stroke="#000" stroke-width="3.6"/>
<text x="1865.2" y="701.7" font-size="42.57" textLength="56.32" lengthAdjust="spacingAndGlyphs">***</text>
<path d="M1847,720.8 L1857.2,720.8 L1852.1,711Z" fill="none" stroke="#4a4a4a" stroke-width="2.8" stroke-linejoin="miter"/>
<path d="M1847,763.2 L1857.2,763.2 L1852.1,753.4Z" fill="none" stroke="#4a4a4a" stroke-width="2.8" stroke-linejoin="miter"/>
<path d="M1847,791.9 L1857.2,791.9 L1852.1,782.1Z" fill="none" stroke="#4a4a4a" stroke-width="2.8" stroke-linejoin="miter"/>
<path d="M1836.7,820.5 L1846.9,820.5 L1841.8,810.7Z" fill="none" stroke="#4a4a4a" stroke-width="2.8" stroke-linejoin="miter"/>
<path d="M1858.5,832 L1868.7,832 L1863.6,822.2Z" fill="none" stroke="#4a4a4a" stroke-width="2.8" stroke-linejoin="miter"/>
<path d="M1858.5,879 L1868.7,879 L1863.6,869.2Z" fill="none" stroke="#4a4a4a" stroke-width="2.8" stroke-linejoin="miter"/>
<path d="M1836.7,884.7 L1846.9,884.7 L1841.8,874.9Z" fill="none" stroke="#4a4a4a" stroke-width="2.8" stroke-linejoin="miter"/>
<path d="M1841.3,892.7 L1851.5,892.7 L1846.4,882.9Z" fill="none" stroke="#4a4a4a" stroke-width="2.8" stroke-linejoin="miter"/>
<path d="M1853.9,889.3 L1864.1,889.3 L1859,879.5Z" fill="none" stroke="#4a4a4a" stroke-width="2.8" stroke-linejoin="miter"/>
<path d="M1828,824.1 H1876.2 M1840.6,803.5 H1864.7 M1840.6,845.4 H1864.7 M1852.1,803.5 V845.4" stroke="#111" stroke-width="3.4" fill="none"/>
<rect x="1953.6" y="888.4" width="12.7" height="12.7" fill="none" stroke="#4a4a4a" stroke-width="2.8"/>
<rect x="1938.7" y="904.4" width="12.7" height="12.7" fill="none" stroke="#4a4a4a" stroke-width="2.8"/>
<rect x="1968.5" y="904.4" width="12.7" height="12.7" fill="none" stroke="#4a4a4a" stroke-width="2.8"/>
<rect x="1953.6" y="913.6" width="12.7" height="12.7" fill="none" stroke="#4a4a4a" stroke-width="2.8"/>
<rect x="1942.1" y="950.2" width="12.7" height="12.7" fill="none" stroke="#4a4a4a" stroke-width="2.8"/>
<rect x="1965" y="949.1" width="12.7" height="12.7" fill="none" stroke="#4a4a4a" stroke-width="2.8"/>
<rect x="1961.6" y="961.8" width="12.7" height="12.7" fill="none" stroke="#4a4a4a" stroke-width="2.8"/>
<rect x="1946.7" y="972" width="12.7" height="12.7" fill="none" stroke="#4a4a4a" stroke-width="2.8"/>
<rect x="1953.7" y="943.6" width="12.7" height="12.7" fill="none" stroke="#4a4a4a" stroke-width="2.8"/>
<path d="M1935.8,937.8 H1984 M1948.4,928.7 H1971.3 M1948.4,947.9 H1971.3 M1959.9,928.7 V947.9" stroke="#111" stroke-width="3.4" fill="none"/>
<path d="M1311.6,1040.4 V1357.9 M1304.4,1357.9 H1562.2 M1304.4,1041.9 H1311.6 M1304.4,1120.5 H1311.6 M1304.4,1199.1 H1311.6 M1304.4,1277.7 H1311.6" stroke="#1e1e1e" stroke-width="3.4" fill="none"/>
<text x="1250.7" y="1058.7" font-size="40.5">12</text>
<text x="1272.9" y="1135.8" font-size="40.5">9</text>
<text x="1272.7" y="1212.9" font-size="40.5">6</text>
<text x="1272.7" y="1290" font-size="40.5">3</text>
<text x="1272.5" y="1367.2" font-size="40.5">0</text>
<line x1="1380.9" y1="1083.7" x2="1471.2" y2="1083.7" stroke="#000" stroke-width="3.6"/>
<text x="1396.9" y="1070.8" font-size="40.86" font-weight="normal" fill="#000" textLength="56.89" lengthAdjust="spacingAndGlyphs">NS</text>
<path d="M1379,1137.8 L1391.4,1137.8 L1385.2,1125.8Z" fill="none" stroke="#4a4a4a" stroke-width="2.8" stroke-linejoin="miter"/>
<path d="M1363.2,1170 L1375.6,1170 L1369.4,1158Z" fill="none" stroke="#4a4a4a" stroke-width="2.8" stroke-linejoin="miter"/>
<path d="M1394.7,1170 L1407.1,1170 L1400.9,1158Z" fill="none" stroke="#4a4a4a" stroke-width="2.8" stroke-linejoin="miter"/>
<path d="M1362.5,1204.4 L1374.9,1204.4 L1368.7,1192.4Z" fill="none" stroke="#4a4a4a" stroke-width="2.8" stroke-linejoin="miter"/>
<path d="M1370.4,1217.3 L1382.8,1217.3 L1376.6,1205.3Z" fill="none" stroke="#4a4a4a" stroke-width="2.8" stroke-linejoin="miter"/>
<path d="M1394,1216.6 L1406.4,1216.6 L1400.2,1204.6Z" fill="none" stroke="#4a4a4a" stroke-width="2.8" stroke-linejoin="miter"/>
<path d="M1388.3,1219.5 L1400.7,1219.5 L1394.5,1207.5Z" fill="none" stroke="#4a4a4a" stroke-width="2.8" stroke-linejoin="miter"/>
<path d="M1379,1228.8 L1391.4,1228.8 L1385.2,1216.8Z" fill="none" stroke="#4a4a4a" stroke-width="2.8" stroke-linejoin="miter"/>
<path d="M1379,1191 L1391.4,1191 L1385.2,1179Z" fill="none" stroke="#4a4a4a" stroke-width="2.8" stroke-linejoin="miter"/>
<path d="M1357.9,1187 H1412.4 M1371.5,1177.6 H1398.1 M1371.5,1197 H1398.1 M1385.2,1177.6 V1197" stroke="#111" stroke-width="3.4" fill="none"/>
<rect x="1457.5" y="1129.6" width="14.4" height="14.4" fill="none" stroke="#4a4a4a" stroke-width="2.8"/>
<rect x="1474" y="1127.4" width="14.4" height="14.4" fill="none" stroke="#4a4a4a" stroke-width="2.8"/>
<rect x="1489.8" y="1137.5" width="14.4" height="14.4" fill="none" stroke="#4a4a4a" stroke-width="2.8"/>
<rect x="1460.4" y="1155.4" width="14.4" height="14.4" fill="none" stroke="#4a4a4a" stroke-width="2.8"/>
<rect x="1477.6" y="1154.7" width="14.4" height="14.4" fill="none" stroke="#4a4a4a" stroke-width="2.8"/>
<rect x="1485.5" y="1179" width="14.4" height="14.4" fill="none" stroke="#4a4a4a" stroke-width="2.8"/>
<rect x="1474" y="1205.6" width="14.4" height="14.4" fill="none" stroke="#4a4a4a" stroke-width="2.8"/>
<path d="M1453.3,1161.1 H1507.7 M1466,1151.8 H1497.7 M1466,1169 H1497.7 M1481.2,1151.8 V1169" stroke="#111" stroke-width="3.4" fill="none"/>
<path d="M1773,1031.4 V1351.7 M1765,1351.7 H2012 M1765,1032.9 H1773 M1765,1096.7 H1773 M1765,1160.4 H1773 M1765,1224.2 H1773 M1765,1287.9 H1773" stroke="#1e1e1e" stroke-width="3.4" fill="none"/>
<text x="1709.3" y="1047.2" font-size="40.5">25</text>
<text x="1709.1" y="1110.9" font-size="40.5">20</text>
<text x="1709.3" y="1174.7" font-size="40.5">15</text>
<text x="1709.1" y="1238.5" font-size="40.5">10</text>
<text x="1731.7" y="1302.2" font-size="40.5">5</text>
<text x="1731.5" y="1366" font-size="40.5">0</text>
<line x1="1853.6" y1="1084" x2="1944.2" y2="1084" stroke="#000" stroke-width="3.6"/>
<text x="1879.3" y="1089.7" font-size="42.57" textLength="38.08" lengthAdjust="spacingAndGlyphs">**</text>
<path d="M1833.1,1130 L1844.3,1130 L1838.7,1119.2Z" fill="none" stroke="#4a4a4a" stroke-width="2.8" stroke-linejoin="miter"/>
<path d="M1855.3,1130 L1866.5,1130 L1860.9,1119.2Z" fill="none" stroke="#4a4a4a" stroke-width="2.8" stroke-linejoin="miter"/>
<path d="M1844.6,1219.4 L1855.8,1219.4 L1850.2,1208.6Z" fill="none" stroke="#4a4a4a" stroke-width="2.8" stroke-linejoin="miter"/>
<path d="M1855.3,1243.6 L1866.5,1243.6 L1860.9,1232.8Z" fill="none" stroke="#4a4a4a" stroke-width="2.8" stroke-linejoin="miter"/>
<path d="M1833.1,1257.4 L1844.3,1257.4 L1838.7,1246.6Z" fill="none" stroke="#4a4a4a" stroke-width="2.8" stroke-linejoin="miter"/>
<path d="M1833.1,1282.6 L1844.3,1282.6 L1838.7,1271.8Z" fill="none" stroke="#4a4a4a" stroke-width="2.8" stroke-linejoin="miter"/>
<path d="M1866.4,1295.2 L1877.6,1295.2 L1872,1284.4Z" fill="none" stroke="#4a4a4a" stroke-width="2.8" stroke-linejoin="miter"/>
<path d="M1855.3,1308.9 L1866.5,1308.9 L1860.9,1298.1Z" fill="none" stroke="#4a4a4a" stroke-width="2.8" stroke-linejoin="miter"/>
<path d="M1833.1,1321.6 L1844.3,1321.6 L1838.7,1310.8Z" fill="none" stroke="#4a4a4a" stroke-width="2.8" stroke-linejoin="miter"/>
<path d="M1824.2,1250.3 H1875 M1837.5,1166.3 H1862.3 M1837.5,1295.5 H1862.3 M1850.2,1166.3 V1295.5" stroke="#111" stroke-width="3.4" fill="none"/>
<rect x="1950.3" y="1243.5" width="13.2" height="13.2" fill="none" stroke="#4a4a4a" stroke-width="2.8"/>
<rect x="1950.3" y="1295.4" width="13.2" height="13.2" fill="none" stroke="#4a4a4a" stroke-width="2.8"/>
<rect x="1934.2" y="1347.4" width="13.2" height="13.2" fill="none" stroke="#4a4a4a" stroke-width="2.8"/>
<rect x="1942.2" y="1347.4" width="13.2" height="13.2" fill="none" stroke="#4a4a4a" stroke-width="2.8"/>
<rect x="1950.3" y="1347.4" width="13.2" height="13.2" fill="none" stroke="#4a4a4a" stroke-width="2.8"/>
<rect x="1958.3" y="1347.4" width="13.2" height="13.2" fill="none" stroke="#4a4a4a" stroke-width="2.8"/>
<rect x="1966.3" y="1347.4" width="13.2" height="13.2" fill="none" stroke="#4a4a4a" stroke-width="2.8"/>
<rect x="1945.7" y="1322.2" width="13.2" height="13.2" fill="none" stroke="#4a4a4a" stroke-width="2.8"/>
<rect x="1954.8" y="1322.2" width="13.2" height="13.2" fill="none" stroke="#4a4a4a" stroke-width="2.8"/>
<path d="M1931.6,1334 H1981.6 M1945.4,1321.9 H1968.3 M1945.4,1346 H1968.3 M1956.9,1321.9 V1346" stroke="#111" stroke-width="3.4" fill="none"/>
</svg></body></html>
